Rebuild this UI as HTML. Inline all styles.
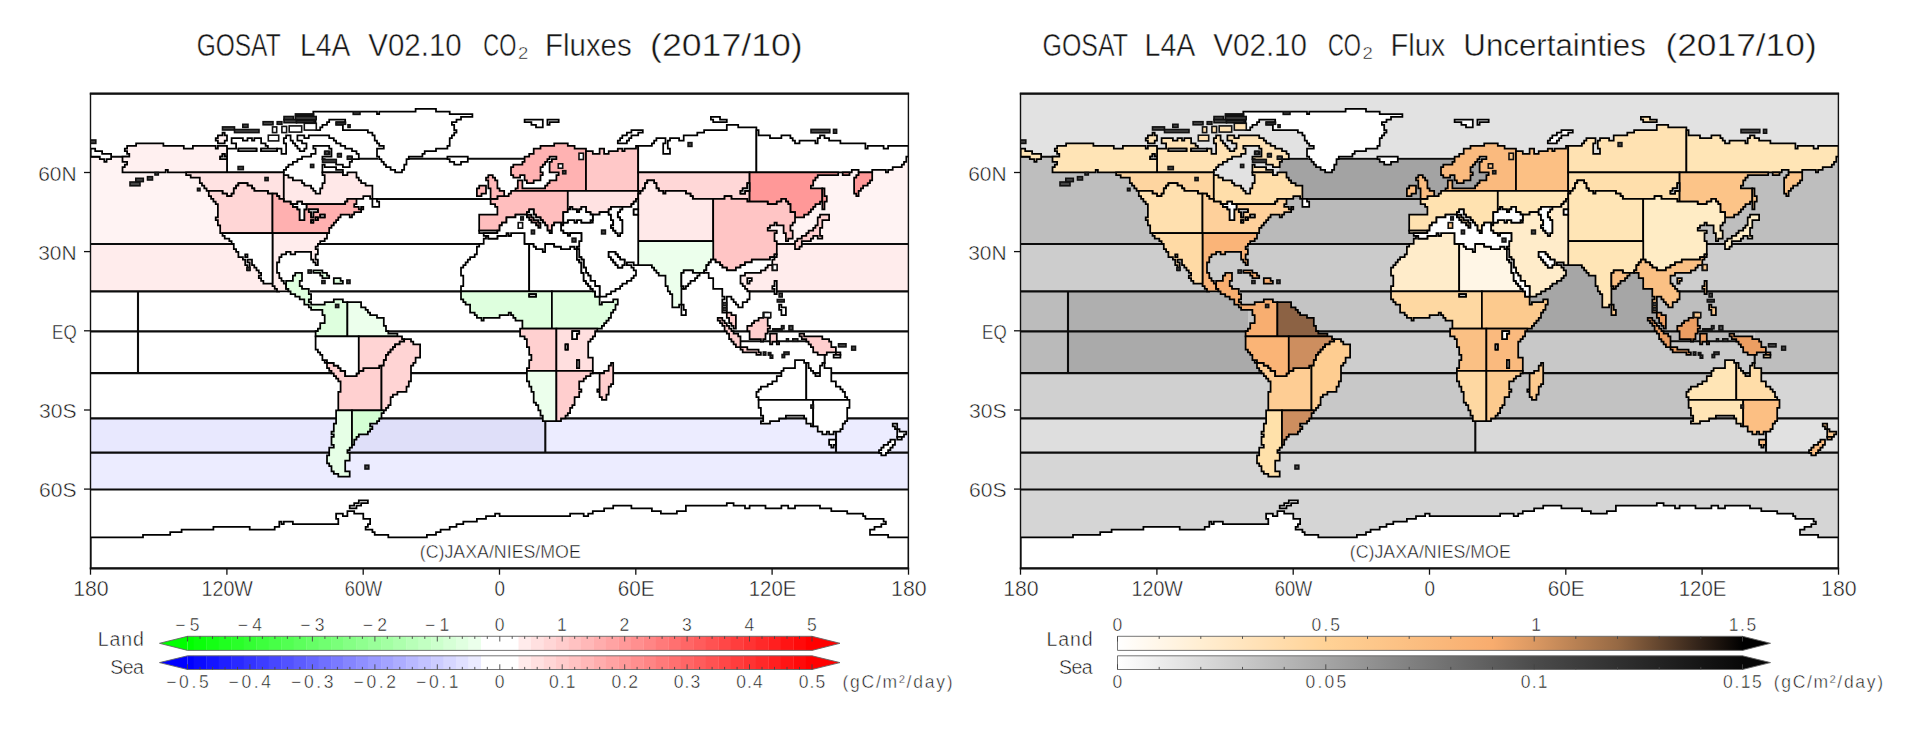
<!DOCTYPE html><html><head><meta charset="utf-8"><title>GOSAT L4A</title><style>html,body{margin:0;padding:0;background:#fff}body{width:1920px;height:750px;overflow:hidden}svg{display:block}text{font-family:"Liberation Sans",sans-serif;fill:#161616;stroke:#fff;stroke-width:0.45px}</style></head><body>
<svg width="1920" height="750" viewBox="0 0 1920 750">
<rect width="1920" height="750" fill="#fff"/>
<defs>
<path id="r0" d="M640.5 190.9H638.2V193.6H640.5ZM592.8 220H590.5V222.7H592.8ZM774.5 286.1H772.3V288.8H774.5V294.1H776.8V280.8H774.5ZM681.4 286.1V288.8H683.7V286.1ZM681.4 315.2H685.9V309.9H683.7V304.6H681.4ZM779.1 309.9H781.4V315.2H785.9V307.3H781.4V304.6H779.1ZM895 429H897.2V423.7H892.7V426.3H895ZM897.2 436.9H904V434.3H906.3V431.6H899.5V429H897.2Z" stroke="#000" stroke-width="1.75" stroke-linejoin="miter" fill-rule="evenodd"/>
<path id="r1" d="M236.1 148.6H227V172.4H283.8V169.8H286.1V167.1H288.4V164.5H292.9V161.8H297.4V159.2H302V156.5H311.1V153.9H315.6V148.6H313.3V145.9H329.2V148.6H331.5V156.5H322.4V159.2H324.7V161.8H336.1V164.5H342.9V167.1H349.7V161.8H352V159.2H358.8V153.9H356.5V151.2H352V148.6H345.2V145.9H340.6V143.3H336.1V140.7H333.8V138H329.2V135.4H308.8V138H304.3V135.4H297.4V140.7H302V143.3H306.5V148.6H304.3V151.2H299.7V148.6H297.4V145.9H295.2V143.3H292.9V140.7H290.6V135.4H286.1V138H283.8V143.3H286.1V153.9H281.5V148.6H277V151.2H261.1V148.6H267.9V145.9H265.6V143.3H261.1V138H254.3V140.7H252V138H247.5V140.7H242.9V138H231.6V143.3H236.1ZM238.4 151.2V148.6H256.5V151.2ZM322.4 172.4H342.9V169.8H336.1V167.1H324.7V164.5H322.4Z" stroke="#000" stroke-width="1.75" stroke-linejoin="miter" fill-rule="evenodd"/>
<path id="r2" d="M127.1 145.9V148.6H124.8V151.2H127.1V153.9H129.3V156.5H122.5V161.8H127.1V164.5H124.8V167.1H122.5V172.4H165.7V169.8H167.9V172.4H227V159.2H220.2V156.5H222.5V153.9H224.7V156.5H227V145.9H217.9V148.6H215.7V145.9H192.9V148.6H183.8V145.9H163.4V143.3H136.1V145.9ZM217.9 138H215.7V140.7H217.9V143.3H224.7V140.7H227V135.4H224.7V132.7H222.5V135.4H217.9Z" stroke="#000" stroke-width="1.75" stroke-linejoin="miter" fill-rule="evenodd"/>
<path id="r3" d="M186.1 175H190.7V177.7H199.8V183H202V185.6H204.3V188.3H206.6V190.9H222.5V193.6H227V196.2H231.6V193.6H233.8V188.3H236.1V185.6H238.4V183H247.5V185.6H252V188.3H254.3V190.9H267.9V193.6H277V196.2H279.3V198.8H283.8V172.4H186.1Z" stroke="#000" stroke-width="1.75" stroke-linejoin="miter" fill-rule="evenodd"/>
<path id="r4" d="M283.8 201.5H290.6V204.1H297.4V201.5H302V204.1H345.2V201.5H347.4V198.8H363.3V196.2H370.1V198.8H372.4V185.6H365.6V183H361.1V180.3H358.8V177.7H356.5V172.4H347.4V175H342.9V172.4H322.4V175H324.7V183H322.4V188.3H320.2V193.6H315.6V190.9H313.3V188.3H311.1V185.6H304.3V183H302V180.3H292.9V177.7H288.4V175H283.8Z" stroke="#000" stroke-width="1.75" stroke-linejoin="miter" fill-rule="evenodd"/>
<path id="r5" d="M236.1 185.6V188.3H233.8V193.6H231.6V196.2H227V193.6H222.5V190.9H208.8V196.2H211.1V198.8H213.4V201.5H215.7V204.1H217.9V217.4H215.7V220H217.9V225.3H220.2V233.2H272.5V193.6H267.9V190.9H254.3V188.3H252V185.6H247.5V183H238.4V185.6Z" stroke="#000" stroke-width="1.75" stroke-linejoin="miter" fill-rule="evenodd"/>
<path id="r6" d="M272.5 233.2H329.2V227.9H331.5V225.3H333.8V222.7H336.1V220H338.3V217.4H340.6V214.7H349.7V217.4H352V214.7H354.2V212.1H361.1V209.4H358.8V206.8H354.2V204.1H356.5V198.8H347.4V201.5H345.2V204.1H306.5V209.4H304.3V220H299.7V209.4H297.4V206.8H292.9V204.1H290.6V201.5H283.8V198.8H279.3V196.2H277V193.6H272.5ZM311.1 222.7V220H313.3V222.7ZM308.8 209.4H317.9V212.1H313.3V217.4H311.1V212.1H308.8ZM315.6 220V217.4H317.9V220ZM324.7 217.4H320.2V214.7H324.7ZM361.1 206.8V209.4H363.3V206.8Z" stroke="#000" stroke-width="1.75" stroke-linejoin="miter" fill-rule="evenodd"/>
<path id="r7" d="M272.5 286.1H274.7V288.8H277V291.4H288.4V288.8H286.1V283.5H283.8V280.8H281.5V278.2H279.3V272.9H277V262.3H279.3V257H281.5V254.4H286.1V251.8H290.6V254.4H295.2V251.8H311.1V259.7H313.3V262.3H315.6V265H317.9V259.7H315.6V254.4H317.9V249.1H315.6V246.5H317.9V243.8H320.2V241.2H324.7V238.5H327V233.2H272.5Z" stroke="#000" stroke-width="1.75" stroke-linejoin="miter" fill-rule="evenodd"/>
<path id="r8" d="M224.7 235.9V238.5H229.3V241.2H231.6V243.8H233.8V249.1H236.1V251.8H238.4V257H242.9V259.7H245.2V265H247.5V270.3H249.7V262.3H247.5V259.7H252V265H254.3V267.6H256.5V270.3H258.8V272.9H261.1V275.6H258.8V278.2H261.1V280.8H263.4V283.5H272.5V233.2H222.5V235.9ZM245.2 254.4H247.5V257H245.2Z" stroke="#000" stroke-width="1.75" stroke-linejoin="miter" fill-rule="evenodd"/>
<path id="r9" d="M320.2 272.9V275.6H322.4V278.2H329.2V275.6H327V272.9H322.4V270.3H313.3V272.9ZM295.2 275.6H292.9V280.8H286.1V288.8H288.4V291.4H290.6V294.1H295.2V296.7H299.7V299.4H304.3V304.6H308.8V307.3H311.1V309.9H322.4V315.2H324.7V323.2H320.2V328.5H317.9V331.1H315.6V336.4H347.4V302H342.9V299.4H333.8V302H324.7V304.6H311.1V302H308.8V299.4H311.1V294.1H308.8V288.8H302V286.1H299.7V280.8H302V272.9H295.2ZM342.9 280.8H340.6V278.2H333.8V283.5H342.9Z" stroke="#000" stroke-width="1.75" stroke-linejoin="miter" fill-rule="evenodd"/>
<path id="r10" d="M347.4 336.4H397.4V333.7H388.3V331.1H386V325.8H383.8V317.9H377V315.2H370.1V312.6H367.9V309.9H365.6V307.3H361.1V302H347.4Z" stroke="#000" stroke-width="1.75" stroke-linejoin="miter" fill-rule="evenodd"/>
<path id="r11" d="M327 362.8V360.2H324.7V362.8ZM327 368.1H329.2V370.8H331.5V373.4H333.8V376.1H336.1V378.7H338.3V381.4H340.6V391.9H338.3V410.4H381.5V365.5H379.2V368.1H363.3V370.8H358.8V373.4H356.5V376.1H345.2V370.8H340.6V368.1H338.3V365.5H333.8V362.8H327Z" stroke="#000" stroke-width="1.75" stroke-linejoin="miter" fill-rule="evenodd"/>
<path id="r12" d="M315.6 349.6H317.9V352.3H320.2V354.9H322.4V360.2H327V362.8H333.8V365.5H338.3V368.1H340.6V370.8H345.2V376.1H356.5V373.4H358.8V336.4H315.6Z" stroke="#000" stroke-width="1.75" stroke-linejoin="miter" fill-rule="evenodd"/>
<path id="r13" d="M358.8 370.8H363.3V368.1H379.2V365.5H383.8V360.2H386V354.9H388.3V352.3H390.6V349.6H392.9V347H395.1V344.3H399.7V341.7H404.2V339H402V336.4H358.8Z" stroke="#000" stroke-width="1.75" stroke-linejoin="miter" fill-rule="evenodd"/>
<path id="r14" d="M381.5 410.4H386V407.8H388.3V405.2H390.6V397.2H392.9V394.6H397.4V391.9H406.5V386.6H408.8V381.4H411V365.5H413.3V362.8H415.6V357.6H420.1V344.3H413.3V341.7H411V339H404.2V341.7H399.7V344.3H395.1V347H392.9V349.6H390.6V352.3H388.3V354.9H386V360.2H383.8V365.5H381.5Z" stroke="#000" stroke-width="1.75" stroke-linejoin="miter" fill-rule="evenodd"/>
<path id="r15" d="M352 410.4H336.1V423.7H333.8V431.6H331.5V434.3H333.8V436.9H331.5V444.8H333.8V447.5H329.2V455.4H327V463.4H329.2V466H331.5V471.3H333.8V473.9H338.3V476.6H349.7V471.3H345.2V460.7H349.7V452.8H347.4V450.1H349.7V447.5H352Z" stroke="#000" stroke-width="1.75" stroke-linejoin="miter" fill-rule="evenodd"/>
<path id="r16" d="M370.1 423.7H377V421H379.2V418.4H381.5V413.1H383.8V410.4H352V444.8H354.2V439.5H356.5V436.9H358.8V434.3H367.9V431.6H370.1V429H372.4V426.3H370.1Z" stroke="#000" stroke-width="1.75" stroke-linejoin="miter" fill-rule="evenodd"/>
<path id="r17" d="M567.8 145.9V143.3H554.2V145.9H540.5V148.6H533.7V153.9H529.2V156.5H524.6V161.8H522.4V164.5H513.3V167.1H511V175H513.3V177.7H520.1V175H524.6V180.3H526.9V183H533.7V180.3H540.5V175H542.8V172.4H540.5V167.1H542.8V164.5H545.1V161.8H547.4V159.2H549.6V156.5H556.4V159.2H551.9V161.8H549.6V172.4H558.7V175H556.4V180.3H549.6V183H547.4V185.6H545.1V188.3H522.4V180.3H517.8V188.3H515.5V190.9H586V148.6H574.6V145.9Z" stroke="#000" stroke-width="1.75" stroke-linejoin="miter" fill-rule="evenodd"/>
<path id="r18" d="M604.1 148.6H599.6V153.9H592.8V151.2H586V190.9H638.2V145.9H636V148.6H624.6V151.2H622.3V148.6H617.8V151.2H608.7V153.9H604.1Z" stroke="#000" stroke-width="1.75" stroke-linejoin="miter" fill-rule="evenodd"/>
<path id="r19" d="M490.6 198.8V204.1H495.1V206.8H497.4V214.7H479.2V230.6H499.6V225.3H501.9V222.7H506.5V217.4H515.5V214.7H526.9V212.1H529.2V209.4H533.7V214.7H536V217.4H540.5V220H542.8V222.7H545.1V225.3H547.4V230.6H551.9V225.3H554.2V222.7H561V225.3H563.3V212.1H567.8V190.9H511V193.6H508.7V196.2H497.4V198.8ZM531.4 220V222.7H536V225.3H538.3V227.9H540.5V222.7H538.3V220H533.7V217.4H531.4V214.7H526.9V217.4H529.2V220Z" stroke="#000" stroke-width="1.75" stroke-linejoin="miter" fill-rule="evenodd"/>
<path id="r20" d="M570.1 209.4V206.8H572.3V209.4H576.9V212.1H579.2V209.4H581.4V206.8H586V212.1H590.5V214.7H599.6V212.1H608.7V209.4H611V206.8H631.4V204.1H633.7V201.5H636V198.8H638.2V190.9H567.8V209.4Z" stroke="#000" stroke-width="1.75" stroke-linejoin="miter" fill-rule="evenodd"/>
<path id="r21" d="M654.1 140.7V143.3H651.9V145.9H638.2V172.4H756.4V127.4H738.2V124.8H726.8V130.1H704.1V132.7H697.3V135.4H683.7V140.7H679.1V138H670V140.7H667.8V148.6H670V153.9H663.2V143.3H665.5V138H656.4V140.7ZM713.2 122.1H726.8V119.5H720V116.9H710.9V119.5H713.2Z" stroke="#000" stroke-width="1.75" stroke-linejoin="miter" fill-rule="evenodd"/>
<path id="r22" d="M756.4 172.4H851.8V169.8H858.6V172.4H872.2V169.8H885.9V172.4H888.1V169.8H892.7V167.1H901.8V164.5H904V161.8H906.3V156.5H908.6V145.9H888.1V148.6H883.6V145.9H867.7V148.6H865.4V143.3H840.4V140.7H829.1V138H824.5V135.4H820V138H817.7V143.3H815.4V140.7H799.5V143.3H795V140.7H792.7V138H790.4V135.4H781.4V138H770V135.4H758.6V130.1H756.4Z" stroke="#000" stroke-width="1.75" stroke-linejoin="miter" fill-rule="evenodd"/>
<path id="r23" d="M90.7 148.6V156.5H99.8V159.2H104.3V161.8H106.6V159.2H111.1V153.9H102.1V151.2H95.2V148.6Z" stroke="#000" stroke-width="1.75" stroke-linejoin="miter" fill-rule="evenodd"/>
<path id="r24" d="M638.2 190.9H642.8V188.3H645V183H647.3V180.3H654.1V183H656.4V188.3H658.7V190.9H663.2V193.6H665.5V190.9H685.9V193.6H690.5V196.2H692.8V198.8H724.6V196.2H731.4V198.8H747.3V201.5H749.6V190.9H745V193.6H740.5V190.9H742.7V188.3H747.3V183H749.6V172.4H638.2Z" stroke="#000" stroke-width="1.75" stroke-linejoin="miter" fill-rule="evenodd"/>
<path id="r25" d="M749.6 201.5H767.7V204.1H776.8V201.5H781.4V198.8H785.9V201.5H788.2V204.1H790.4V212.1H795V217.4H804.1V214.7H808.6V212.1H810.9V209.4H813.2V206.8H815.4V204.1H820V201.5H822.3V188.3H810.9V185.6H813.2V180.3H815.4V177.7H817.7V175H838.2V172.4H749.6ZM842.7 172.4V175H849.5V172.4ZM858.6 175H856.3V177.7H854.1V193.6H856.3V196.2H858.6V190.9H860.9V188.3H863.1V185.6H867.7V183H870V180.3H872.2V172.4H858.6Z" stroke="#000" stroke-width="1.75" stroke-linejoin="miter" fill-rule="evenodd"/>
<path id="r26" d="M645 183V188.3H642.8V190.9H640.5V193.6H638.2V241.2H713.2V198.8H692.8V196.2H690.5V193.6H685.9V190.9H665.5V193.6H663.2V190.9H658.7V188.3H656.4V183H654.1V180.3H647.3V183Z" stroke="#000" stroke-width="1.75" stroke-linejoin="miter" fill-rule="evenodd"/>
<path id="r27" d="M713.2 259.7H715.5V262.3H720V265H722.3V267.6H726.8V270.3H735.9V267.6H740.5V265H745V262.3H751.8V259.7H770V257H774.5V254.4H776.8V241.2H774.5V233.2H776.8V230.6H767.7V227.9H770V225.3H774.5V222.7H776.8V225.3H783.6V233.2H785.9V241.2H788.2V238.5H792.7V230.6H790.4V225.3H792.7V222.7H795V212.1H790.4V204.1H788.2V201.5H785.9V198.8H781.4V201.5H776.8V204.1H767.7V201.5H747.3V198.8H731.4V196.2H724.6V198.8H713.2Z" stroke="#000" stroke-width="1.75" stroke-linejoin="miter" fill-rule="evenodd"/>
<path id="r28" d="M808.6 233.2H806.3V235.9H801.8V238.5H797.3V241.2H795V249.1H799.5V246.5H801.8V241.2H810.9V238.5H813.2V235.9H817.7V238.5H822.3V235.9H820V227.9H822.3V220H829.1V214.7H820V217.4H817.7V225.3H815.4V227.9H813.2V230.6H808.6Z" stroke="#000" stroke-width="1.75" stroke-linejoin="miter" fill-rule="evenodd"/>
<path id="r29" d="M713.2 241.2H638.2V265H651.9V267.6H654.1V270.3H656.4V272.9H658.7V275.6H665.5V286.1H667.8V291.4H670V294.1H672.3V307.3H679.1V304.6H681.4V272.9H683.7V270.3H692.8V272.9H704.1V270.3H706.4V265H708.7V262.3H710.9V259.7H713.2Z" stroke="#000" stroke-width="1.75" stroke-linejoin="miter" fill-rule="evenodd"/>
<path id="r30" d="M708.7 265H706.4V270.3H704.1V272.9H708.7V278.2H713.2V288.8H722.3V296.7H724.6V299.4H722.3V312.6H726.8V296.7H731.4V299.4H733.6V302H735.9V304.6H738.2V307.3H742.7V302H747.3V299.4H749.6V291.4H747.3V288.8H745V286.1H742.7V283.5H740.5V275.6H745V272.9H760.9V270.3H765.5V267.6H767.7V265H772.3V259.7H774.5V257H770V259.7H751.8V262.3H745V265H740.5V267.6H735.9V270.3H726.8V267.6H722.3V265H720V262.3H715.5V259.7H710.9V262.3H708.7ZM683.7 272.9H681.4V286.1H683.7V288.8H685.9V286.1H688.2V283.5H690.5V280.8H695V278.2H697.3V275.6H699.6V272.9H692.8V270.3H683.7ZM776.8 254.4H774.5V257H776.8ZM772.3 270.3H776.8V265H772.3ZM749.6 283.5V280.8H751.8V278.2H747.3V283.5Z" stroke="#000" stroke-width="1.75" stroke-linejoin="miter" fill-rule="evenodd"/>
<path id="r31" d="M729.1 317.9V323.2H731.4V325.8H733.6V328.5H735.9V315.2H731.4V312.6H726.8V317.9ZM747.3 325.8V331.1H749.6V339H760.9V341.7H763.2V339H765.5V333.7H767.7V328.5H770V325.8H767.7V317.9H770V315.2H767.7V312.6H763.2V317.9H758.6V320.5H754.1V323.2H751.8V325.8ZM742.7 352.3H756.4V354.9H760.9V352.3H758.6V349.6H747.3V347H740.5V349.6H742.7ZM806.3 339V341.7H808.6V344.3H810.9V347H813.2V352.3H817.7V354.9H826.8V352.3H835.9V347H831.3V341.7H829.1V339H822.3V336.4H804.1V333.7H799.5V336.4H801.8V339ZM770 344.3H772.3V341.7H776.8V333.7H770ZM776.8 341.7V344.3H779.1V341.7ZM835.9 354.9H840.4V352.3H835.9Z" stroke="#000" stroke-width="1.75" stroke-linejoin="miter" fill-rule="evenodd"/>
<path id="r32" d="M497.4 230.6H479.2V233.2H497.4ZM486 235.9V238.5H483.7V243.8H479.2V246.5H476.9V254.4H474.7V257H470.1V259.7H467.8V262.3H465.6V265H463.3V267.6H461V275.6H463.3V286.1H461V291.4H529.2V243.8H524.6V233.2H511V235.9H508.7V233.2H506.5V235.9H497.4V238.5H488.3V235.9Z" stroke="#000" stroke-width="1.75" stroke-linejoin="miter" fill-rule="evenodd"/>
<path id="r33" d="M551.9 230.6H549.6V233.2H551.9ZM529.2 291.4H592.8V288.8H590.5V286.1H588.2V283.5H586V280.8H583.7V272.9H581.4V262.3H579.2V259.7H576.9V249.1H574.6V246.5H570.1V249.1H561V246.5H554.2V243.8H545.1V251.8H542.8V249.1H536V246.5H533.7V243.8H529.2Z" stroke="#000" stroke-width="1.75" stroke-linejoin="miter" fill-rule="evenodd"/>
<path id="r34" d="M592.8 222.7H581.4V220H576.9V222.7H574.6V220H567.8V222.7H563.3V225.3H561V230.6H563.3V233.2H567.8V235.9H570.1V233.2H581.4V241.2H579.2V246.5H576.9V249.1H579.2V257H581.4V259.7H583.7V267.6H586V272.9H588.2V275.6H590.5V280.8H595.1V286.1H599.6V296.7H606.4V294.1H611V291.4H615.5V288.8H620.1V286.1H622.3V283.5H626.9V280.8H631.4V278.2H633.7V275.6H636V270.3H633.7V267.6H631.4V265H626.9V262.3H633.7V265H638.2V214.7H633.7V209.4H638.2V198.8H636V201.5H633.7V204.1H631.4V206.8H622.3V209.4H620.1V212.1H617.8V217.4H620.1V220H622.3V233.2H620.1V235.9H617.8V233.2H615.5V230.6H613.2V227.9H611V225.3H613.2V220H611V214.7H608.7V212.1H599.6V214.7H592.8ZM617.8 265H615.5V262.3H613.2V259.7H611V257H608.7V251.8H615.5V254.4H617.8V257H620.1V259.7H624.6V265H622.3V267.6H617.8Z" stroke="#000" stroke-width="1.75" stroke-linejoin="miter" fill-rule="evenodd"/>
<path id="r35" d="M461 299.4H463.3V302H465.6V304.6H470.1V312.6H474.7V315.2H476.9V317.9H481.5V320.5H483.7V317.9H499.6V315.2H508.7V312.6H511V315.2H513.3V317.9H515.5V320.5H522.4V328.5H551.9V291.4H461ZM529.2 296.7V294.1H536V296.7Z" stroke="#000" stroke-width="1.75" stroke-linejoin="miter" fill-rule="evenodd"/>
<path id="r36" d="M551.9 328.5H601.9V325.8H604.1V323.2H606.4V320.5H608.7V317.9H611V312.6H613.2V309.9H615.5V304.6H617.8V299.4H613.2V302H601.9V304.6H599.6V296.7H595.1V291.4H551.9Z" stroke="#000" stroke-width="1.75" stroke-linejoin="miter" fill-rule="evenodd"/>
<path id="r37" d="M520.1 336.4H524.6V339H526.9V347H529.2V354.9H531.4V360.2H529.2V368.1H526.9V370.8H556.4V328.5H520.1Z" stroke="#000" stroke-width="1.75" stroke-linejoin="miter" fill-rule="evenodd"/>
<path id="r38" d="M556.4 370.8H592.8V357.6H588.2V341.7H590.5V339H592.8V336.4H595.1V331.1H597.3V328.5H556.4ZM572.3 331.1H579.2V333.7H576.9V339H572.3ZM565.5 349.6V344.3H567.8V349.6ZM576.9 360.2H579.2V368.1H576.9Z" stroke="#000" stroke-width="1.75" stroke-linejoin="miter" fill-rule="evenodd"/>
<path id="r39" d="M526.9 381.4H529.2V386.6H531.4V391.9H533.7V402.5H536V405.2H538.3V410.4H540.5V415.7H542.8V421H556.4V370.8H526.9Z" stroke="#000" stroke-width="1.75" stroke-linejoin="miter" fill-rule="evenodd"/>
<path id="r40" d="M556.4 421H561V418.4H565.5V415.7H567.8V413.1H570.1V407.8H572.3V405.2H574.6V397.2H579.2V391.9H581.4V389.3H579.2V381.4H583.7V378.7H586V376.1H590.5V373.4H592.8V370.8H556.4ZM597.3 389.3V391.9H599.6V389.3Z" stroke="#000" stroke-width="1.75" stroke-linejoin="miter" fill-rule="evenodd"/>
<path id="r41" d="M613.2 362.8H611V365.5H608.7V370.8H604.1V373.4H599.6V397.2H601.9V399.9H606.4V394.6H608.7V386.6H611V384H613.2Z" stroke="#000" stroke-width="1.75" stroke-linejoin="miter" fill-rule="evenodd"/>
<path id="r42" d="M806.3 362.8H804.1V360.2H795V368.1H783.6V370.8H781.4V376.1H776.8V381.4H772.3V384H767.7V386.6H760.9V389.3H758.6V391.9H756.4V397.2H758.6V399.9H806.3Z" stroke="#000" stroke-width="1.75" stroke-linejoin="miter" fill-rule="evenodd"/>
<path id="r43" d="M806.3 399.9H847.2V397.2H845V391.9H842.7V389.3H840.4V386.6H835.9V381.4H831.3V368.1H824.5V362.8H822.3V365.5H820V376.1H815.4V373.4H813.2V370.8H810.9V368.1H808.6V362.8H806.3ZM840.4 354.9H833.6V357.6H840.4Z" stroke="#000" stroke-width="1.75" stroke-linejoin="miter" fill-rule="evenodd"/>
<path id="r44" d="M758.6 407.8H760.9V415.7H763.2V421H760.9V423.7H770V421H779.1V418.4H785.9V415.7H804.1V418.4H806.3V423.7H810.9V426.3H813.2V399.9H758.6Z" stroke="#000" stroke-width="1.75" stroke-linejoin="miter" fill-rule="evenodd"/>
<path id="r45" d="M813.2 426.3H817.7V431.6H822.3V434.3H826.8V431.6H829.1V434.3H833.6V431.6H840.4V429H842.7V423.7H845V421H847.2V407.8H849.5V399.9H813.2Z" stroke="#000" stroke-width="1.75" stroke-linejoin="miter" fill-rule="evenodd"/>
<path id="r46" d="M488.3 177.7H486V180.3H488.3V188.3H490.6V198.8H497.4V196.2H504.2V190.9H499.6V188.3H497.4V180.3H495.1V177.7H492.8V175H488.3Z" stroke="#000" stroke-width="1.75" stroke-linejoin="miter" fill-rule="evenodd"/>
<path id="r47" d="M479.2 185.6V188.3H476.9V196.2H481.5V193.6H486V185.6Z" stroke="#000" stroke-width="1.75" stroke-linejoin="miter" fill-rule="evenodd"/>
<path id="r48" d="M822.3 209.4H824.5V201.5H826.8V196.2H824.5V188.3H822.3Z" stroke="#000" stroke-width="1.75" stroke-linejoin="miter" fill-rule="evenodd"/>
<path id="r49" d="M717.7 320.5H720V323.2H722.3V325.8H724.6V331.1H726.8V333.7H729.1V339H731.4V341.7H733.6V344.3H735.9V347H740.5V336.4H738.2V333.7H733.6V331.1H731.4V328.5H729.1V325.8H726.8V323.2H724.6V320.5H722.3V317.9H717.7Z" stroke="#000" stroke-width="1.75" stroke-linejoin="miter" fill-rule="evenodd"/>
<path id="r50" d="M901.8 439.5V436.9H897.2V439.5ZM829.1 444.8H831.3V447.5H833.6V444.8H835.9V439.5H829.1ZM890.4 442.2H888.1V444.8H883.6V447.5H881.3V450.1H879V452.8H881.3V455.4H885.9V452.8H888.1V450.1H890.4V447.5H892.7V444.8H895V439.5H890.4Z" stroke="#000" stroke-width="1.75" stroke-linejoin="miter" fill-rule="evenodd"/>
<path id="lk" d="M227 159.2V156.5H224.7V153.9H222.5V156.5H220.2V159.2ZM292.9 206.8H297.4V209.4H299.7V220H304.3V209.4H306.5V204.1H302V201.5H297.4V204.1H292.9ZM526.9 212.1V214.7H515.5V217.4H506.5V222.7H501.9V225.3H499.6V230.6H497.4V233.2H483.7V235.9H488.3V238.5H497.4V235.9H506.5V233.2H508.7V235.9H511V233.2H524.6V243.8H533.7V246.5H536V249.1H542.8V251.8H545.1V243.8H554.2V246.5H561V249.1H570.1V246.5H574.6V249.1H576.9V246.5H579.2V241.2H581.4V233.2H570.1V235.9H567.8V233.2H563.3V230.6H561V222.7H554.2V225.3H551.9V233.2H549.6V230.6H547.4V225.3H545.1V222.7H542.8V220H540.5V217.4H536V214.7H533.7V209.4H529.2V212.1ZM531.4 214.7V217.4H533.7V220H538.3V222.7H540.5V227.9H538.3V225.3H536V222.7H531.4V220H529.2V217.4H526.9V214.7ZM311.1 217.4H313.3V212.1H317.9V209.4H308.8V212.1H311.1ZM320.2 217.4H324.7V214.7H320.2ZM317.9 220V217.4H315.6V220ZM311.1 222.7H313.3V220H311.1ZM576.9 209.4H572.3V206.8H570.1V209.4H567.8V212.1H563.3V222.7H567.8V220H574.6V222.7H576.9V220H581.4V222.7H590.5V220H592.8V214.7H590.5V212.1H586V206.8H581.4V209.4H579.2V212.1H576.9ZM536 296.7V294.1H529.2V296.7ZM572.3 339H576.9V333.7H579.2V331.1H572.3ZM567.8 344.3H565.5V349.6H567.8ZM579.2 259.7V262.3H581.4V272.9H583.7V280.8H586V283.5H588.2V286.1H590.5V288.8H592.8V291.4H595.1V296.7H599.6V286.1H595.1V280.8H590.5V275.6H588.2V272.9H586V267.6H583.7V259.7H581.4V257H579.2V249.1H576.9V259.7ZM579.2 360.2H576.9V368.1H579.2ZM740.5 190.9V193.6H745V190.9H749.6V183H747.3V188.3H742.7V190.9ZM608.7 209.4V214.7H611V220H613.2V225.3H611V227.9H613.2V230.6H615.5V233.2H617.8V235.9H620.1V233.2H622.3V220H620.1V217.4H617.8V212.1H620.1V209.4H622.3V206.8H611V209.4ZM638.2 214.7V209.4H633.7V214.7ZM613.2 259.7V262.3H615.5V265H617.8V267.6H622.3V265H624.6V259.7H620.1V257H617.8V254.4H615.5V251.8H608.7V257H611V259.7Z" stroke="#000" stroke-width="1.75" stroke-linejoin="miter" fill-rule="evenodd"/>
<path id="st" d="M238.4 148.6V151.2H256.5V148.6ZM261.1 148.6V151.2H277V148.6Z" stroke="#000" stroke-width="1.75" stroke-linejoin="miter" fill-rule="evenodd"/>
<path id="ic" d="M313.3 116.9H315.6V130.1H320.2V127.4H322.4V124.8H327V122.1H329.2V119.5H345.2V122.1H336.1V124.8H342.9V130.1H367.9V132.7H372.4V135.4H374.7V140.7H377V143.3H379.2V145.9H383.8V148.6H377V156.5H379.2V159.2H381.5V161.8H383.8V164.5H386V167.1H390.6V169.8H395.1V172.4H402V169.8H404.2V164.5H406.5V159.2H408.8V156.5H422.4V153.9H424.7V151.2H436V148.6H447.4V145.9H449.7V138H451.9V135.4H454.2V132.7H456.5V130.1H454.2V124.8H451.9V122.1H456.5V119.5H461V116.9H472.4V114.2H449.7V111.6H436V108.9H415.6V111.6H379.2V114.2H377V111.6H313.3ZM372.4 206.8H379.2V201.5H377V198.8H372.4ZM354.2 503V505.7H349.7V508.3H356.5V505.7H361.1V503H367.9V500.4H358.8V503ZM347.4 516.2H342.9V513.6H336.1V518.9H338.3V524.2H292.9V521.5H283.8V524.2H281.5V521.5H279.3V526.8H274.7V529.5H249.7V526.8H213.4V529.5H181.6V532.1H170.2V534.8H143V537.4H90.7V569.1H908.6V537.4H888.1V534.8H870V529.5H874.5V526.8H881.3V524.2H885.9V521.5H883.6V518.9H865.4V516.2H863.1V513.6H847.2V511H831.3V508.3H820V505.7H795V508.3H788.2V505.7H781.4V508.3H765.5V505.7H749.6V508.3H745V505.7H733.6V503H726.8V505.7H685.9V511H676.9V513.6H660.9V511H651.9V508.3H631.4V505.7H613.2V508.3H604.1V511H592.8V513.6H588.2V516.2H583.7V513.6H570.1V516.2H499.6V513.6H495.1V516.2H486V518.9H476.9V521.5H463.3V524.2H456.5V526.8H449.7V529.5H440.6V532.1H436V534.8H426.9V537.4H388.3V534.8H374.7V532.1H372.4V529.5H365.6V526.8H367.9V524.2H370.1V518.9H363.3V513.6H354.2V511H347.4ZM547.4 124.8H549.6V122.1H558.7V119.5H547.4ZM536 124.8V127.4H542.8V119.5H524.6V122.1H531.4V124.8ZM626.9 143.3V140.7H629.1V138H631.4V135.4H638.2V132.7H642.8V130.1H631.4V132.7H626.9V135.4H622.3V138H620.1V140.7H617.8V143.3ZM461 164.5V161.8H467.8V156.5H447.4V159.2H449.7V161.8H454.2V164.5Z" stroke="#000" stroke-width="1.75" stroke-linejoin="miter" fill-rule="evenodd"/>
<clipPath id="frameclip"><rect x="90.5" y="93.6" width="817.9" height="474.8"/></clipPath>
</defs>
<g transform="translate(0 0)">
<g clip-path="url(#frameclip)">
<path d="M80 156.8L260 156.8 260 244 80 244Z" fill="#fff3f3"/>
<path d="M765 156.8L925 156.8 925 244 765 244Z" fill="#fff3f3"/>
<path d="M80 244L235 244 292 291.4 80 291.4Z" fill="#ffecec"/>
<path d="M738 244L925 244 925 291.4 738 291.4Z" fill="#ffecec"/>
<path d="M80 418.4L350 418.4 350 452.6 80 452.6Z" fill="#e8e8fe"/>
<path d="M350 418.4L545.3 418.4 545.3 452.6 350 452.6Z" fill="#dfdff9"/>
<path d="M545.3 418.4L836 418.4 836 452.6 545.3 452.6Z" fill="#ececff"/>
<path d="M836 418.4L925 418.4 925 452.6 836 452.6Z" fill="#ececff"/>
<path d="M80 452.6L925 452.6 925 489.5 80 489.5Z" fill="#ececff"/>
<line x1="80" y1="156.8" x2="130" y2="156.8" stroke="#0c0c0c" stroke-width="2.1"/>
<line x1="349" y1="158.8" x2="378" y2="158.8" stroke="#0c0c0c" stroke-width="2.1"/>
<line x1="405" y1="158.8" x2="530" y2="158.8" stroke="#0c0c0c" stroke-width="2.1"/>
<line x1="373" y1="199" x2="490" y2="199" stroke="#0c0c0c" stroke-width="2.1"/>
<line x1="80" y1="244" x2="233" y2="244" stroke="#0c0c0c" stroke-width="2.1"/>
<line x1="318" y1="244" x2="485" y2="244" stroke="#0c0c0c" stroke-width="2.1"/>
<line x1="775" y1="244" x2="925" y2="244" stroke="#0c0c0c" stroke-width="2.1"/>
<line x1="80" y1="291.4" x2="280" y2="291.4" stroke="#0c0c0c" stroke-width="2.1"/>
<line x1="310" y1="291.4" x2="462" y2="291.4" stroke="#0c0c0c" stroke-width="2.1"/>
<line x1="748" y1="291.4" x2="925" y2="291.4" stroke="#0c0c0c" stroke-width="2.1"/>
<line x1="80" y1="331.4" x2="318" y2="331.4" stroke="#0c0c0c" stroke-width="2.1"/>
<line x1="387" y1="331.4" x2="522" y2="331.4" stroke="#0c0c0c" stroke-width="2.1"/>
<line x1="594" y1="331.4" x2="925" y2="331.4" stroke="#0c0c0c" stroke-width="2.1"/>
<line x1="80" y1="373.1" x2="332" y2="373.1" stroke="#0c0c0c" stroke-width="2.1"/>
<line x1="411" y1="373.1" x2="528" y2="373.1" stroke="#0c0c0c" stroke-width="2.1"/>
<line x1="592" y1="373.1" x2="925" y2="373.1" stroke="#0c0c0c" stroke-width="2.1"/>
<line x1="80" y1="418.4" x2="925" y2="418.4" stroke="#0c0c0c" stroke-width="2.1"/>
<line x1="80" y1="452.6" x2="925" y2="452.6" stroke="#0c0c0c" stroke-width="2.1"/>
<line x1="80" y1="489.5" x2="925" y2="489.5" stroke="#0c0c0c" stroke-width="2.1"/>
<line x1="741" y1="341.3" x2="809" y2="341.3" stroke="#0c0c0c" stroke-width="2.1"/>
<line x1="138" y1="291.4" x2="138" y2="373.1" stroke="#0c0c0c" stroke-width="2.1"/>
<line x1="545.3" y1="418.4" x2="545.3" y2="452.6" stroke="#0c0c0c" stroke-width="2.1"/>
<line x1="836" y1="418.4" x2="836" y2="452.6" stroke="#0c0c0c" stroke-width="2.1"/>
<line x1="824.7" y1="354" x2="824.7" y2="364" stroke="#0c0c0c" stroke-width="2.1"/>
<use href="#r0" fill="#ffffff"/>
<use href="#r1" fill="#ffffff"/>
<use href="#r2" fill="#fff0f0"/>
<use href="#r3" fill="#ffe2e2"/>
<use href="#r4" fill="#ffe8e8"/>
<use href="#r5" fill="#ffd6d6"/>
<use href="#r6" fill="#ffb0b0"/>
<use href="#r7" fill="#ffecec"/>
<use href="#r8" fill="#ffffff"/>
<use href="#r9" fill="#deffde"/>
<use href="#r10" fill="#ecffec"/>
<use href="#r11" fill="#ffd0d0"/>
<use href="#r12" fill="#ffffff"/>
<use href="#r13" fill="#ffd4d4"/>
<use href="#r14" fill="#ffd4d4"/>
<use href="#r15" fill="#e6ffe6"/>
<use href="#r16" fill="#d4ffd4"/>
<use href="#r17" fill="#ffb2b2"/>
<use href="#r18" fill="#ffc8c8"/>
<use href="#r19" fill="#ffbebe"/>
<use href="#r20" fill="#ffe2e2"/>
<use href="#r21" fill="#ffffff"/>
<use href="#r22" fill="#ffffff"/>
<use href="#r23" fill="#ffffff"/>
<use href="#r24" fill="#ffd7d7"/>
<use href="#r25" fill="#ff9898"/>
<use href="#r26" fill="#ffe9e9"/>
<use href="#r27" fill="#ffc5c5"/>
<use href="#r28" fill="#ffcece"/>
<use href="#r29" fill="#ecffec"/>
<use href="#r30" fill="#ffffff"/>
<use href="#r31" fill="#ffcece"/>
<use href="#r32" fill="#ffffff"/>
<use href="#r33" fill="#ffffff"/>
<use href="#r34" fill="#ffffff"/>
<use href="#r35" fill="#deffde"/>
<use href="#r36" fill="#deffde"/>
<use href="#r37" fill="#ffd0d0"/>
<use href="#r38" fill="#ffdfdf"/>
<use href="#r39" fill="#ecffec"/>
<use href="#r40" fill="#ffcece"/>
<use href="#r41" fill="#ffcece"/>
<use href="#r42" fill="#ffffff"/>
<use href="#r43" fill="#ffffff"/>
<use href="#r44" fill="#ffffff"/>
<use href="#r45" fill="#ffffff"/>
<use href="#r46" fill="#ffb8b8"/>
<use href="#r47" fill="#ffb8b8"/>
<use href="#r48" fill="#ff9898"/>
<use href="#r49" fill="#ffcece"/>
<use href="#r50" fill="#ffffff"/>
<use href="#lk" fill="#ffffff"/>
<use href="#st" fill="#ffffff"/>
<use href="#ic" fill="#ffffff"/>
<rect x="295.4" y="113.9" width="18.2" height="1.6" fill="#444" stroke="#111" stroke-width="1.6"/>
<rect x="284" y="116.5" width="9.4" height="3.1" fill="#444" stroke="#111" stroke-width="1.6"/>
<rect x="295.4" y="116.5" width="20.8" height="3.1" fill="#444" stroke="#111" stroke-width="1.6"/>
<rect x="284" y="119.6" width="12.5" height="3.1" fill="#444" stroke="#111" stroke-width="1.6"/>
<rect x="296.5" y="120.7" width="17.7" height="2.1" fill="#444" stroke="#111" stroke-width="1.6"/>
<rect x="263.1" y="121.7" width="9.9" height="3.1" fill="#444" stroke="#111" stroke-width="1.6"/>
<rect x="277.2" y="121.7" width="4.7" height="2.6" fill="#444" stroke="#111" stroke-width="1.6"/>
<rect x="304.3" y="123.3" width="12" height="6.8" fill="#fff" stroke="#111" stroke-width="1.6"/>
<rect x="289.2" y="125.9" width="12.5" height="6.2" fill="#fff" stroke="#111" stroke-width="1.6"/>
<rect x="281.9" y="126.4" width="4.7" height="6.2" fill="#fff" stroke="#111" stroke-width="1.6"/>
<rect x="272.5" y="126.9" width="4.2" height="5.7" fill="#fff" stroke="#111" stroke-width="1.6"/>
<rect x="222.5" y="126.9" width="12" height="3.1" fill="#444" stroke="#111" stroke-width="1.6"/>
<rect x="234.5" y="129.5" width="24.5" height="3.1" fill="#444" stroke="#111" stroke-width="1.6"/>
<rect x="242.8" y="124.3" width="5.2" height="3.1" fill="#444" stroke="#111" stroke-width="1.6"/>
<rect x="268.3" y="135.2" width="10.4" height="5.7" fill="#fff" stroke="#111" stroke-width="1.6"/>
<rect x="336.6" y="122.2" width="8.9" height="2.1" fill="#444" stroke="#111" stroke-width="1.6"/>
<rect x="348" y="124.8" width="2.1" height="2.6" fill="#444" stroke="#111" stroke-width="1.6"/>
<rect x="353.2" y="111.8" width="6.8" height="2.6" fill="#444" stroke="#111" stroke-width="1.6"/>
<rect x="324.6" y="151.4" width="5.2" height="3.1" fill="#444" stroke="#111" stroke-width="1.6"/>
<rect x="338.1" y="153.5" width="3.1" height="3.1" fill="#444" stroke="#111" stroke-width="1.6"/>
<rect x="347.5" y="156.6" width="4.7" height="2.6" fill="#444" stroke="#111" stroke-width="1.6"/>
<rect x="238.1" y="166.5" width="5.2" height="3.1" fill="#444" stroke="#111" stroke-width="1.6"/>
<rect x="322.5" y="159.4" width="13.8" height="3.1" fill="#444" stroke="#111" stroke-width="1.6"/>
<rect x="337.5" y="153.8" width="3.8" height="3.1" fill="#444" stroke="#111" stroke-width="1.6"/>
<rect x="347.5" y="156.2" width="4.4" height="3.1" fill="#444" stroke="#111" stroke-width="1.6"/>
<rect x="325" y="151.2" width="3.8" height="3.1" fill="#444" stroke="#111" stroke-width="1.6"/>
<rect x="310.6" y="164.4" width="3.1" height="3.1" fill="#444" stroke="#111" stroke-width="1.6"/>
<rect x="265" y="177.5" width="3.1" height="3.1" fill="#444" stroke="#111" stroke-width="1.6"/>
<rect x="308.1" y="270" width="3.1" height="3.1" fill="#444" stroke="#111" stroke-width="1.6"/>
<rect x="346.9" y="280" width="3.1" height="3.5" fill="#444" stroke="#111" stroke-width="1.6"/>
<rect x="321.9" y="280.6" width="3.1" height="2.9" fill="#444" stroke="#111" stroke-width="1.6"/>
<rect x="246.9" y="267.5" width="3.1" height="2.8" fill="#444" stroke="#111" stroke-width="1.6"/>
<rect x="335.6" y="304.4" width="3.1" height="3.1" fill="#444" stroke="#111" stroke-width="1.6"/>
<rect x="365" y="465.2" width="3.8" height="3.8" fill="#444" stroke="#111" stroke-width="1.6"/>
<rect x="130" y="182" width="10" height="3.8" fill="#444" stroke="#111" stroke-width="1.6"/>
<rect x="135.8" y="178.3" width="7.5" height="3.3" fill="#444" stroke="#111" stroke-width="1.6"/>
<rect x="147.5" y="176.7" width="5" height="3.3" fill="#444" stroke="#111" stroke-width="1.6"/>
<rect x="155" y="172.5" width="3.3" height="2.5" fill="#444" stroke="#111" stroke-width="1.6"/>
<rect x="197.5" y="188.3" width="2.5" height="2.5" fill="#444" stroke="#111" stroke-width="1.6"/>
<rect x="518.2" y="222.6" width="4.4" height="5.6" fill="#fff" stroke="#111" stroke-width="1.6"/>
<rect x="520.8" y="216.9" width="2.5" height="3.1" fill="#444" stroke="#111" stroke-width="1.6"/>
<rect x="531.4" y="230.1" width="3.1" height="3.8" fill="#444" stroke="#111" stroke-width="1.6"/>
<rect x="572.1" y="238.2" width="3.8" height="3.8" fill="#444" stroke="#111" stroke-width="1.6"/>
<rect x="601.6" y="230.1" width="3.8" height="3.8" fill="#444" stroke="#111" stroke-width="1.6"/>
<rect x="811" y="129.4" width="18.8" height="3.4" fill="#444" stroke="#111" stroke-width="1.6"/>
<rect x="833.5" y="129.4" width="3.1" height="3.8" fill="#444" stroke="#111" stroke-width="1.6"/>
<rect x="688.1" y="142.6" width="3.8" height="3.8" fill="#444" stroke="#111" stroke-width="1.6"/>
<rect x="89.8" y="140" width="6" height="3.4" fill="#444" stroke="#111" stroke-width="1.6"/>
<rect x="772.7" y="264.6" width="4.4" height="5.6" fill="#fff" stroke="#111" stroke-width="1.6"/>
<rect x="779.1" y="293.2" width="3.1" height="3.8" fill="#444" stroke="#111" stroke-width="1.6"/>
<rect x="777.3" y="299.5" width="6.9" height="2.5" fill="#444" stroke="#111" stroke-width="1.6"/>
<rect x="722.8" y="302.6" width="3.8" height="3.1" fill="#444" stroke="#111" stroke-width="1.6"/>
<rect x="722.8" y="307.6" width="3.8" height="3.1" fill="#444" stroke="#111" stroke-width="1.6"/>
<rect x="763.3" y="352" width="2.5" height="3.1" fill="#444" stroke="#111" stroke-width="1.6"/>
<rect x="768.3" y="352.6" width="2.5" height="2.5" fill="#444" stroke="#111" stroke-width="1.6"/>
<rect x="770.2" y="355.1" width="2.5" height="3.1" fill="#444" stroke="#111" stroke-width="1.6"/>
<rect x="782.1" y="354.5" width="2.5" height="3.1" fill="#444" stroke="#111" stroke-width="1.6"/>
<rect x="784" y="352" width="5" height="2.5" fill="#444" stroke="#111" stroke-width="1.6"/>
<rect x="772.7" y="328.8" width="9.4" height="1.3" fill="#444" stroke="#111" stroke-width="1.6"/>
<rect x="781.5" y="325.7" width="2.5" height="3.1" fill="#444" stroke="#111" stroke-width="1.6"/>
<rect x="789" y="325.7" width="3.8" height="4.4" fill="#444" stroke="#111" stroke-width="1.6"/>
<rect x="786.5" y="338.8" width="1.9" height="2.5" fill="#444" stroke="#111" stroke-width="1.6"/>
<rect x="792.8" y="338.8" width="5" height="2.5" fill="#444" stroke="#111" stroke-width="1.6"/>
<rect x="838.5" y="343.8" width="7.5" height="3.1" fill="#444" stroke="#111" stroke-width="1.6"/>
<rect x="851.7" y="346.3" width="3.8" height="3.8" fill="#444" stroke="#111" stroke-width="1.6"/>
<rect x="763.9" y="312.5" width="6.9" height="5" fill="#fff" stroke="#111" stroke-width="1.6"/>
<rect x="810.9" y="405" width="2.5" height="3.1" fill="#444" stroke="#111" stroke-width="1.6"/>
<rect x="579" y="153.2" width="4.4" height="6.3" fill="#fff" stroke="#111" stroke-width="1.6"/>
<rect x="558.3" y="163.8" width="4.4" height="4.4" fill="#fff" stroke="#111" stroke-width="1.6"/>
<rect x="562.7" y="170.7" width="3.1" height="3.1" fill="#444" stroke="#111" stroke-width="1.6"/>
</g>
<rect x="90.5" y="93.6" width="817.9" height="474.8" fill="none" stroke="#111" stroke-width="1.4"/>
<line x1="89.8" y1="93.6" x2="909.1" y2="93.6" stroke="#111" stroke-width="2.2"/>
<line x1="89.8" y1="568.4" x2="909.1" y2="568.4" stroke="#111" stroke-width="2.2"/>
<line x1="90.5" y1="568.4" x2="90.5" y2="574.7" stroke="#111" stroke-width="1.3"/>
<text x="73.2" y="595.6" font-size="21.5" textLength="35.5" lengthAdjust="spacingAndGlyphs">180</text>
<line x1="226.9" y1="568.4" x2="226.9" y2="574.7" stroke="#111" stroke-width="1.3"/>
<text x="201.6" y="595.6" font-size="21.5" textLength="51.3" lengthAdjust="spacingAndGlyphs">120W</text>
<line x1="363.2" y1="568.4" x2="363.2" y2="574.7" stroke="#111" stroke-width="1.3"/>
<text x="344.8" y="595.6" font-size="21.5" textLength="37.5" lengthAdjust="spacingAndGlyphs">60W</text>
<line x1="499.5" y1="568.4" x2="499.5" y2="574.7" stroke="#111" stroke-width="1.3"/>
<text x="494.6" y="595.6" font-size="21.5" textLength="10.5" lengthAdjust="spacingAndGlyphs">0</text>
<line x1="635.8" y1="568.4" x2="635.8" y2="574.7" stroke="#111" stroke-width="1.3"/>
<text x="617.8" y="595.6" font-size="21.5" textLength="36.8" lengthAdjust="spacingAndGlyphs">60E</text>
<line x1="772.1" y1="568.4" x2="772.1" y2="574.7" stroke="#111" stroke-width="1.3"/>
<text x="748.8" y="595.6" font-size="21.5" textLength="47.5" lengthAdjust="spacingAndGlyphs">120E</text>
<line x1="908.5" y1="568.4" x2="908.5" y2="574.7" stroke="#111" stroke-width="1.3"/>
<text x="891.1" y="595.6" font-size="21.5" textLength="35.5" lengthAdjust="spacingAndGlyphs">180</text>
<line x1="84" y1="172.5" x2="90.5" y2="172.5" stroke="#111" stroke-width="1.3"/>
<text x="38.2" y="180.7" font-size="20.5" textLength="38.4" lengthAdjust="spacingAndGlyphs">60N</text>
<line x1="84" y1="251.6" x2="90.5" y2="251.6" stroke="#111" stroke-width="1.3"/>
<text x="38.2" y="259.8" font-size="20.5" textLength="38.4" lengthAdjust="spacingAndGlyphs">30N</text>
<line x1="84" y1="330.8" x2="90.5" y2="330.8" stroke="#111" stroke-width="1.3"/>
<text x="52.1" y="339" font-size="20.5" textLength="24.5" lengthAdjust="spacingAndGlyphs">EQ</text>
<line x1="84" y1="410" x2="90.5" y2="410" stroke="#111" stroke-width="1.3"/>
<text x="39.1" y="418.2" font-size="20.5" textLength="37.5" lengthAdjust="spacingAndGlyphs">30S</text>
<line x1="84" y1="489.1" x2="90.5" y2="489.1" stroke="#111" stroke-width="1.3"/>
<text x="39.1" y="497.3" font-size="20.5" textLength="37.5" lengthAdjust="spacingAndGlyphs">60S</text>
<text x="419.8" y="558.4" font-size="18.9" textLength="161" lengthAdjust="spacingAndGlyphs">(C)JAXA/NIES/MOE</text>
</g>
<g transform="translate(930 0)">
<g clip-path="url(#frameclip)">
<path d="M80 80L925 80 925 156.8 80 156.8Z" fill="#e2e2e2"/>
<path d="M80 156.8L260 156.8 260 244 80 244Z" fill="#bebebe"/>
<path d="M765 156.8L925 156.8 925 244 765 244Z" fill="#bebebe"/>
<path d="M349 158.8L600 158.8 600 199 349 199Z" fill="#a3a3a3"/>
<path d="M283 150L349 150 349 197 283 197Z" fill="#e2e2e2"/>
<path d="M300 199L560 199 560 244 300 244Z" fill="#bababa"/>
<path d="M590 238L729 238 729 331.4 590 331.4Z" fill="#a6a6a6"/>
<path d="M80 244L235 244 292 291.4 80 291.4Z" fill="#cdcdcd"/>
<path d="M270 244L500 244 500 291.4 270 291.4Z" fill="#cbcbcb"/>
<path d="M738 244L925 244 925 291.4 738 291.4Z" fill="#cdcdcd"/>
<path d="M80 291.4L138 291.4 138 331.4 80 331.4Z" fill="#bcbcbc"/>
<path d="M138 291.4L291 291.4 311 304 318 310 318 331.4 138 331.4Z" fill="#afafaf"/>
<path d="M291 291.4L560 291.4 560 331.4 318 331.4 318 310 311 304Z" fill="#c4c4c4"/>
<path d="M728 291.4L925 291.4 925 331.4 728 331.4Z" fill="#bebebe"/>
<path d="M80 331.4L138 331.4 138 373.1 80 373.1Z" fill="#bababa"/>
<path d="M138 331.4L345 331.4 345 373.1 138 373.1Z" fill="#aaaaaa"/>
<path d="M345 331.4L560 331.4 560 373.1 345 373.1Z" fill="#cdcdcd"/>
<path d="M560 331.4L824.7 331.4 824.7 373.1 560 373.1Z" fill="#c8c8c8"/>
<path d="M824.7 331.4L925 331.4 925 373.1 824.7 373.1Z" fill="#bebebe"/>
<path d="M741 331.4L809 331.4 809 341.3 741 341.3Z" fill="#bababa"/>
<path d="M80 373.1L345 373.1 345 418.4 80 418.4Z" fill="#d0d0d0"/>
<path d="M345 373.1L545.3 373.1 545.3 418.4 345 418.4Z" fill="#c8c8c8"/>
<path d="M545.3 373.1L825 373.1 825 418.4 545.3 418.4Z" fill="#c2c2c2"/>
<path d="M825 373.1L925 373.1 925 418.4 825 418.4Z" fill="#d6d6d6"/>
<path d="M80 418.4L350 418.4 350 452.6 80 452.6Z" fill="#dedede"/>
<path d="M350 418.4L545.3 418.4 545.3 452.6 350 452.6Z" fill="#d0d0d0"/>
<path d="M545.3 418.4L836 418.4 836 452.6 545.3 452.6Z" fill="#d9d9d9"/>
<path d="M836 418.4L925 418.4 925 452.6 836 452.6Z" fill="#e1e1e1"/>
<path d="M80 452.6L925 452.6 925 489.5 80 489.5Z" fill="#d6d6d6"/>
<path d="M80 489.5L925 489.5 925 580 80 580Z" fill="#d5d5d5"/>
<line x1="80" y1="156.8" x2="130" y2="156.8" stroke="#0c0c0c" stroke-width="2.1"/>
<line x1="349" y1="158.8" x2="378" y2="158.8" stroke="#0c0c0c" stroke-width="2.1"/>
<line x1="405" y1="158.8" x2="530" y2="158.8" stroke="#0c0c0c" stroke-width="2.1"/>
<line x1="373" y1="199" x2="490" y2="199" stroke="#0c0c0c" stroke-width="2.1"/>
<line x1="80" y1="244" x2="233" y2="244" stroke="#0c0c0c" stroke-width="2.1"/>
<line x1="318" y1="244" x2="485" y2="244" stroke="#0c0c0c" stroke-width="2.1"/>
<line x1="775" y1="244" x2="925" y2="244" stroke="#0c0c0c" stroke-width="2.1"/>
<line x1="80" y1="291.4" x2="280" y2="291.4" stroke="#0c0c0c" stroke-width="2.1"/>
<line x1="310" y1="291.4" x2="462" y2="291.4" stroke="#0c0c0c" stroke-width="2.1"/>
<line x1="748" y1="291.4" x2="925" y2="291.4" stroke="#0c0c0c" stroke-width="2.1"/>
<line x1="80" y1="331.4" x2="318" y2="331.4" stroke="#0c0c0c" stroke-width="2.1"/>
<line x1="387" y1="331.4" x2="522" y2="331.4" stroke="#0c0c0c" stroke-width="2.1"/>
<line x1="594" y1="331.4" x2="925" y2="331.4" stroke="#0c0c0c" stroke-width="2.1"/>
<line x1="80" y1="373.1" x2="332" y2="373.1" stroke="#0c0c0c" stroke-width="2.1"/>
<line x1="411" y1="373.1" x2="528" y2="373.1" stroke="#0c0c0c" stroke-width="2.1"/>
<line x1="592" y1="373.1" x2="925" y2="373.1" stroke="#0c0c0c" stroke-width="2.1"/>
<line x1="80" y1="418.4" x2="925" y2="418.4" stroke="#0c0c0c" stroke-width="2.1"/>
<line x1="80" y1="452.6" x2="925" y2="452.6" stroke="#0c0c0c" stroke-width="2.1"/>
<line x1="80" y1="489.5" x2="925" y2="489.5" stroke="#0c0c0c" stroke-width="2.1"/>
<line x1="741" y1="341.3" x2="809" y2="341.3" stroke="#0c0c0c" stroke-width="2.1"/>
<line x1="138" y1="291.4" x2="138" y2="373.1" stroke="#0c0c0c" stroke-width="2.1"/>
<line x1="545.3" y1="418.4" x2="545.3" y2="452.6" stroke="#0c0c0c" stroke-width="2.1"/>
<line x1="836" y1="418.4" x2="836" y2="452.6" stroke="#0c0c0c" stroke-width="2.1"/>
<line x1="824.7" y1="354" x2="824.7" y2="364" stroke="#0c0c0c" stroke-width="2.1"/>
<use href="#r0" fill="#fcc88c"/>
<use href="#r1" fill="#ffe2b4"/>
<use href="#r2" fill="#ffe4b6"/>
<use href="#r3" fill="#fed5a0"/>
<use href="#r4" fill="#ffdeaa"/>
<use href="#r5" fill="#ffe0af"/>
<use href="#r6" fill="#fed09b"/>
<use href="#r7" fill="#fab478"/>
<use href="#r8" fill="#ffdaa5"/>
<use href="#r9" fill="#f8ae70"/>
<use href="#r10" fill="#8c6244"/>
<use href="#r11" fill="#fecd94"/>
<use href="#r12" fill="#fab476"/>
<use href="#r13" fill="#cd8e5f"/>
<use href="#r14" fill="#fecd91"/>
<use href="#r15" fill="#ffe1aa"/>
<use href="#r16" fill="#cd8e5f"/>
<use href="#r17" fill="#faba7e"/>
<use href="#r18" fill="#fcc084"/>
<use href="#r19" fill="#ffe2b0"/>
<use href="#r20" fill="#ffe5b6"/>
<use href="#r21" fill="#ffe2b2"/>
<use href="#r22" fill="#ffe5b6"/>
<use href="#r23" fill="#ffe5b6"/>
<use href="#r24" fill="#ffdfac"/>
<use href="#r25" fill="#fcc488"/>
<use href="#r26" fill="#ffe5b6"/>
<use href="#r27" fill="#ffecc5"/>
<use href="#r28" fill="#ffeec8"/>
<use href="#r29" fill="#ffe5b6"/>
<use href="#r30" fill="#fac084"/>
<use href="#r31" fill="#ec9e62"/>
<use href="#r32" fill="#ffecca"/>
<use href="#r33" fill="#fff6e6"/>
<use href="#r34" fill="#ffecca"/>
<use href="#r35" fill="#fed8a2"/>
<use href="#r36" fill="#fcca8e"/>
<use href="#r37" fill="#fac084"/>
<use href="#r38" fill="#faba7e"/>
<use href="#r39" fill="#fed8a2"/>
<use href="#r40" fill="#fcca8e"/>
<use href="#r41" fill="#fcca8e"/>
<use href="#r42" fill="#ffe5b6"/>
<use href="#r43" fill="#ffdda9"/>
<use href="#r44" fill="#ffe5b6"/>
<use href="#r45" fill="#fcbf83"/>
<use href="#r46" fill="#fbbe82"/>
<use href="#r47" fill="#fbbe82"/>
<use href="#r48" fill="#fcc488"/>
<use href="#r49" fill="#ec9e62"/>
<use href="#r50" fill="#fabc80"/>
<use href="#lk" fill="#ffffff"/>
<use href="#st" fill="#e2e2e2"/>
<use href="#ic" fill="#ffffff"/>
<rect x="295.4" y="113.9" width="18.2" height="1.6" fill="#444" stroke="#111" stroke-width="1.6"/>
<rect x="284" y="116.5" width="9.4" height="3.1" fill="#444" stroke="#111" stroke-width="1.6"/>
<rect x="295.4" y="116.5" width="20.8" height="3.1" fill="#444" stroke="#111" stroke-width="1.6"/>
<rect x="284" y="119.6" width="12.5" height="3.1" fill="#444" stroke="#111" stroke-width="1.6"/>
<rect x="296.5" y="120.7" width="17.7" height="2.1" fill="#444" stroke="#111" stroke-width="1.6"/>
<rect x="263.1" y="121.7" width="9.9" height="3.1" fill="#444" stroke="#111" stroke-width="1.6"/>
<rect x="277.2" y="121.7" width="4.7" height="2.6" fill="#444" stroke="#111" stroke-width="1.6"/>
<rect x="304.3" y="123.3" width="12" height="6.8" fill="#ffe2b4" stroke="#111" stroke-width="1.6"/>
<rect x="289.2" y="125.9" width="12.5" height="6.2" fill="#ffe2b4" stroke="#111" stroke-width="1.6"/>
<rect x="281.9" y="126.4" width="4.7" height="6.2" fill="#ffe2b4" stroke="#111" stroke-width="1.6"/>
<rect x="272.5" y="126.9" width="4.2" height="5.7" fill="#ffe2b4" stroke="#111" stroke-width="1.6"/>
<rect x="222.5" y="126.9" width="12" height="3.1" fill="#444" stroke="#111" stroke-width="1.6"/>
<rect x="234.5" y="129.5" width="24.5" height="3.1" fill="#444" stroke="#111" stroke-width="1.6"/>
<rect x="242.8" y="124.3" width="5.2" height="3.1" fill="#444" stroke="#111" stroke-width="1.6"/>
<rect x="268.3" y="135.2" width="10.4" height="5.7" fill="#ffe2b4" stroke="#111" stroke-width="1.6"/>
<rect x="336.6" y="122.2" width="8.9" height="2.1" fill="#444" stroke="#111" stroke-width="1.6"/>
<rect x="348" y="124.8" width="2.1" height="2.6" fill="#444" stroke="#111" stroke-width="1.6"/>
<rect x="353.2" y="111.8" width="6.8" height="2.6" fill="#444" stroke="#111" stroke-width="1.6"/>
<rect x="324.6" y="151.4" width="5.2" height="3.1" fill="#444" stroke="#111" stroke-width="1.6"/>
<rect x="338.1" y="153.5" width="3.1" height="3.1" fill="#444" stroke="#111" stroke-width="1.6"/>
<rect x="347.5" y="156.6" width="4.7" height="2.6" fill="#444" stroke="#111" stroke-width="1.6"/>
<rect x="238.1" y="166.5" width="5.2" height="3.1" fill="#444" stroke="#111" stroke-width="1.6"/>
<rect x="322.5" y="159.4" width="13.8" height="3.1" fill="#444" stroke="#111" stroke-width="1.6"/>
<rect x="337.5" y="153.8" width="3.8" height="3.1" fill="#444" stroke="#111" stroke-width="1.6"/>
<rect x="347.5" y="156.2" width="4.4" height="3.1" fill="#444" stroke="#111" stroke-width="1.6"/>
<rect x="325" y="151.2" width="3.8" height="3.1" fill="#444" stroke="#111" stroke-width="1.6"/>
<rect x="310.6" y="164.4" width="3.1" height="3.1" fill="#444" stroke="#111" stroke-width="1.6"/>
<rect x="265" y="177.5" width="3.1" height="3.1" fill="#444" stroke="#111" stroke-width="1.6"/>
<rect x="308.1" y="270" width="3.1" height="3.1" fill="#444" stroke="#111" stroke-width="1.6"/>
<rect x="346.9" y="280" width="3.1" height="3.5" fill="#444" stroke="#111" stroke-width="1.6"/>
<rect x="321.9" y="280.6" width="3.1" height="2.9" fill="#444" stroke="#111" stroke-width="1.6"/>
<rect x="246.9" y="267.5" width="3.1" height="2.8" fill="#444" stroke="#111" stroke-width="1.6"/>
<rect x="335.6" y="304.4" width="3.1" height="3.1" fill="#444" stroke="#111" stroke-width="1.6"/>
<rect x="365" y="465.2" width="3.8" height="3.8" fill="#444" stroke="#111" stroke-width="1.6"/>
<rect x="130" y="182" width="10" height="3.8" fill="#444" stroke="#111" stroke-width="1.6"/>
<rect x="135.8" y="178.3" width="7.5" height="3.3" fill="#444" stroke="#111" stroke-width="1.6"/>
<rect x="147.5" y="176.7" width="5" height="3.3" fill="#444" stroke="#111" stroke-width="1.6"/>
<rect x="155" y="172.5" width="3.3" height="2.5" fill="#444" stroke="#111" stroke-width="1.6"/>
<rect x="197.5" y="188.3" width="2.5" height="2.5" fill="#444" stroke="#111" stroke-width="1.6"/>
<rect x="518.2" y="222.6" width="4.4" height="5.6" fill="#fcc88c" stroke="#111" stroke-width="1.6"/>
<rect x="520.8" y="216.9" width="2.5" height="3.1" fill="#444" stroke="#111" stroke-width="1.6"/>
<rect x="531.4" y="230.1" width="3.1" height="3.8" fill="#444" stroke="#111" stroke-width="1.6"/>
<rect x="572.1" y="238.2" width="3.8" height="3.8" fill="#444" stroke="#111" stroke-width="1.6"/>
<rect x="601.6" y="230.1" width="3.8" height="3.8" fill="#444" stroke="#111" stroke-width="1.6"/>
<rect x="811" y="129.4" width="18.8" height="3.4" fill="#444" stroke="#111" stroke-width="1.6"/>
<rect x="833.5" y="129.4" width="3.1" height="3.8" fill="#444" stroke="#111" stroke-width="1.6"/>
<rect x="688.1" y="142.6" width="3.8" height="3.8" fill="#444" stroke="#111" stroke-width="1.6"/>
<rect x="89.8" y="140" width="6" height="3.4" fill="#444" stroke="#111" stroke-width="1.6"/>
<rect x="772.7" y="264.6" width="4.4" height="5.6" fill="#fcc88c" stroke="#111" stroke-width="1.6"/>
<rect x="779.1" y="293.2" width="3.1" height="3.8" fill="#444" stroke="#111" stroke-width="1.6"/>
<rect x="777.3" y="299.5" width="6.9" height="2.5" fill="#444" stroke="#111" stroke-width="1.6"/>
<rect x="722.8" y="302.6" width="3.8" height="3.1" fill="#444" stroke="#111" stroke-width="1.6"/>
<rect x="722.8" y="307.6" width="3.8" height="3.1" fill="#444" stroke="#111" stroke-width="1.6"/>
<rect x="763.3" y="352" width="2.5" height="3.1" fill="#444" stroke="#111" stroke-width="1.6"/>
<rect x="768.3" y="352.6" width="2.5" height="2.5" fill="#444" stroke="#111" stroke-width="1.6"/>
<rect x="770.2" y="355.1" width="2.5" height="3.1" fill="#444" stroke="#111" stroke-width="1.6"/>
<rect x="782.1" y="354.5" width="2.5" height="3.1" fill="#444" stroke="#111" stroke-width="1.6"/>
<rect x="784" y="352" width="5" height="2.5" fill="#444" stroke="#111" stroke-width="1.6"/>
<rect x="772.7" y="328.8" width="9.4" height="1.3" fill="#444" stroke="#111" stroke-width="1.6"/>
<rect x="781.5" y="325.7" width="2.5" height="3.1" fill="#444" stroke="#111" stroke-width="1.6"/>
<rect x="789" y="325.7" width="3.8" height="4.4" fill="#444" stroke="#111" stroke-width="1.6"/>
<rect x="786.5" y="338.8" width="1.9" height="2.5" fill="#444" stroke="#111" stroke-width="1.6"/>
<rect x="792.8" y="338.8" width="5" height="2.5" fill="#444" stroke="#111" stroke-width="1.6"/>
<rect x="838.5" y="343.8" width="7.5" height="3.1" fill="#444" stroke="#111" stroke-width="1.6"/>
<rect x="851.7" y="346.3" width="3.8" height="3.8" fill="#444" stroke="#111" stroke-width="1.6"/>
<rect x="763.9" y="312.5" width="6.9" height="5" fill="#fcc88c" stroke="#111" stroke-width="1.6"/>
<rect x="810.9" y="405" width="2.5" height="3.1" fill="#444" stroke="#111" stroke-width="1.6"/>
<rect x="579" y="153.2" width="4.4" height="6.3" fill="#fcc88c" stroke="#111" stroke-width="1.6"/>
<rect x="558.3" y="163.8" width="4.4" height="4.4" fill="#fcc88c" stroke="#111" stroke-width="1.6"/>
<rect x="562.7" y="170.7" width="3.1" height="3.1" fill="#444" stroke="#111" stroke-width="1.6"/>
</g>
<rect x="90.5" y="93.6" width="817.9" height="474.8" fill="none" stroke="#111" stroke-width="1.4"/>
<line x1="89.8" y1="93.6" x2="909.1" y2="93.6" stroke="#111" stroke-width="2.2"/>
<line x1="89.8" y1="568.4" x2="909.1" y2="568.4" stroke="#111" stroke-width="2.2"/>
<line x1="90.5" y1="568.4" x2="90.5" y2="574.7" stroke="#111" stroke-width="1.3"/>
<text x="73.2" y="595.6" font-size="21.5" textLength="35.5" lengthAdjust="spacingAndGlyphs">180</text>
<line x1="226.9" y1="568.4" x2="226.9" y2="574.7" stroke="#111" stroke-width="1.3"/>
<text x="201.6" y="595.6" font-size="21.5" textLength="51.3" lengthAdjust="spacingAndGlyphs">120W</text>
<line x1="363.2" y1="568.4" x2="363.2" y2="574.7" stroke="#111" stroke-width="1.3"/>
<text x="344.8" y="595.6" font-size="21.5" textLength="37.5" lengthAdjust="spacingAndGlyphs">60W</text>
<line x1="499.5" y1="568.4" x2="499.5" y2="574.7" stroke="#111" stroke-width="1.3"/>
<text x="494.6" y="595.6" font-size="21.5" textLength="10.5" lengthAdjust="spacingAndGlyphs">0</text>
<line x1="635.8" y1="568.4" x2="635.8" y2="574.7" stroke="#111" stroke-width="1.3"/>
<text x="617.8" y="595.6" font-size="21.5" textLength="36.8" lengthAdjust="spacingAndGlyphs">60E</text>
<line x1="772.1" y1="568.4" x2="772.1" y2="574.7" stroke="#111" stroke-width="1.3"/>
<text x="748.8" y="595.6" font-size="21.5" textLength="47.5" lengthAdjust="spacingAndGlyphs">120E</text>
<line x1="908.5" y1="568.4" x2="908.5" y2="574.7" stroke="#111" stroke-width="1.3"/>
<text x="891.1" y="595.6" font-size="21.5" textLength="35.5" lengthAdjust="spacingAndGlyphs">180</text>
<line x1="84" y1="172.5" x2="90.5" y2="172.5" stroke="#111" stroke-width="1.3"/>
<text x="38.2" y="180.7" font-size="20.5" textLength="38.4" lengthAdjust="spacingAndGlyphs">60N</text>
<line x1="84" y1="251.6" x2="90.5" y2="251.6" stroke="#111" stroke-width="1.3"/>
<text x="38.2" y="259.8" font-size="20.5" textLength="38.4" lengthAdjust="spacingAndGlyphs">30N</text>
<line x1="84" y1="330.8" x2="90.5" y2="330.8" stroke="#111" stroke-width="1.3"/>
<text x="52.1" y="339" font-size="20.5" textLength="24.5" lengthAdjust="spacingAndGlyphs">EQ</text>
<line x1="84" y1="410" x2="90.5" y2="410" stroke="#111" stroke-width="1.3"/>
<text x="39.1" y="418.2" font-size="20.5" textLength="37.5" lengthAdjust="spacingAndGlyphs">30S</text>
<line x1="84" y1="489.1" x2="90.5" y2="489.1" stroke="#111" stroke-width="1.3"/>
<text x="39.1" y="497.3" font-size="20.5" textLength="37.5" lengthAdjust="spacingAndGlyphs">60S</text>
<text x="419.8" y="558.4" font-size="18.9" textLength="161" lengthAdjust="spacingAndGlyphs">(C)JAXA/NIES/MOE</text>
</g>
<text x="196.7" y="55.8" font-size="32" textLength="83.9" lengthAdjust="spacingAndGlyphs" stroke-width="0.85">GOSAT</text>
<text x="300" y="55.8" font-size="32" textLength="50.3" lengthAdjust="spacingAndGlyphs" stroke-width="0.85">L4A</text>
<text x="368.3" y="55.8" font-size="32" textLength="93.4" lengthAdjust="spacingAndGlyphs" stroke-width="0.85">V02.10</text>
<text x="483.3" y="55.8" font-size="32" textLength="33" lengthAdjust="spacingAndGlyphs" stroke-width="0.85">CO</text>
<text x="545" y="55.8" font-size="32" textLength="86.7" lengthAdjust="spacingAndGlyphs" stroke-width="0.85">Fluxes</text>
<text x="650" y="55.8" font-size="32" textLength="152.7" lengthAdjust="spacingAndGlyphs" stroke-width="0.85">(2017/10)</text>
<text x="1042.5" y="55.8" font-size="32" textLength="85.4" lengthAdjust="spacingAndGlyphs" stroke-width="0.85">GOSAT</text>
<text x="1144.6" y="55.8" font-size="32" textLength="50.8" lengthAdjust="spacingAndGlyphs" stroke-width="0.85">L4A</text>
<text x="1213.3" y="55.8" font-size="32" textLength="93.7" lengthAdjust="spacingAndGlyphs" stroke-width="0.85">V02.10</text>
<text x="1327.9" y="55.8" font-size="32" textLength="33.1" lengthAdjust="spacingAndGlyphs" stroke-width="0.85">CO</text>
<text x="1390.4" y="55.8" font-size="32" textLength="55" lengthAdjust="spacingAndGlyphs" stroke-width="0.85">Flux</text>
<text x="1463.3" y="55.8" font-size="32" textLength="182.5" lengthAdjust="spacingAndGlyphs" stroke-width="0.85">Uncertainties</text>
<text x="1665.4" y="55.8" font-size="32" textLength="151.3" lengthAdjust="spacingAndGlyphs" stroke-width="0.85">(2017/10)</text>
<text x="518" y="59.4" font-size="16.5" textLength="10.3" lengthAdjust="spacingAndGlyphs" stroke-width="0.25">2</text>
<text x="1362.5" y="59.4" font-size="16.5" textLength="10.3" lengthAdjust="spacingAndGlyphs" stroke-width="0.25">2</text>
<polygon points="187.5,636.3 159.5,643.3 187.5,650.4" fill="#00ff00"/>
<polygon points="812,636.3 840,643.3 812,650.4" fill="#ff0000"/>
<rect x="187.5" y="636.3" width="6.5" height="14.1" fill="#00ff00"/>
<rect x="193.7" y="636.3" width="12.8" height="14.1" fill="#0aff0a"/>
<rect x="206.2" y="636.3" width="12.8" height="14.1" fill="#14ff14"/>
<rect x="218.7" y="636.3" width="12.8" height="14.1" fill="#1fff1f"/>
<rect x="231.2" y="636.3" width="12.8" height="14.1" fill="#29ff29"/>
<rect x="243.7" y="636.3" width="12.8" height="14.1" fill="#33ff33"/>
<rect x="256.2" y="636.3" width="12.8" height="14.1" fill="#3dff3d"/>
<rect x="268.7" y="636.3" width="12.8" height="14.1" fill="#47ff47"/>
<rect x="281.2" y="636.3" width="12.8" height="14.1" fill="#52ff52"/>
<rect x="293.7" y="636.3" width="12.8" height="14.1" fill="#5cff5c"/>
<rect x="306.2" y="636.3" width="12.8" height="14.1" fill="#66ff66"/>
<rect x="318.6" y="636.3" width="12.8" height="14.1" fill="#70ff70"/>
<rect x="331.1" y="636.3" width="12.8" height="14.1" fill="#7aff7a"/>
<rect x="343.6" y="636.3" width="12.8" height="14.1" fill="#85ff85"/>
<rect x="356.1" y="636.3" width="12.8" height="14.1" fill="#8fff8f"/>
<rect x="368.6" y="636.3" width="12.8" height="14.1" fill="#99ff99"/>
<rect x="381.1" y="636.3" width="12.8" height="14.1" fill="#a3ffa3"/>
<rect x="393.6" y="636.3" width="12.8" height="14.1" fill="#adffad"/>
<rect x="406.1" y="636.3" width="12.8" height="14.1" fill="#b8ffb8"/>
<rect x="418.6" y="636.3" width="12.8" height="14.1" fill="#c2ffc2"/>
<rect x="431.1" y="636.3" width="12.8" height="14.1" fill="#ccffcc"/>
<rect x="443.5" y="636.3" width="12.8" height="14.1" fill="#d6ffd6"/>
<rect x="456" y="636.3" width="12.8" height="14.1" fill="#e0ffe0"/>
<rect x="468.5" y="636.3" width="12.8" height="14.1" fill="#ebffeb"/>
<rect x="481" y="636.3" width="12.8" height="14.1" fill="#ffffff"/>
<rect x="493.5" y="636.3" width="12.8" height="14.1" fill="#ffffff"/>
<rect x="506" y="636.3" width="12.8" height="14.1" fill="#ffffff"/>
<rect x="518.5" y="636.3" width="12.8" height="14.1" fill="#ffebeb"/>
<rect x="531" y="636.3" width="12.8" height="14.1" fill="#ffe0e0"/>
<rect x="543.5" y="636.3" width="12.8" height="14.1" fill="#ffd6d6"/>
<rect x="556" y="636.3" width="12.8" height="14.1" fill="#ffcccc"/>
<rect x="568.4" y="636.3" width="12.8" height="14.1" fill="#ffc2c2"/>
<rect x="580.9" y="636.3" width="12.8" height="14.1" fill="#ffb8b8"/>
<rect x="593.4" y="636.3" width="12.8" height="14.1" fill="#ffadad"/>
<rect x="605.9" y="636.3" width="12.8" height="14.1" fill="#ffa3a3"/>
<rect x="618.4" y="636.3" width="12.8" height="14.1" fill="#ff9999"/>
<rect x="630.9" y="636.3" width="12.8" height="14.1" fill="#ff8f8f"/>
<rect x="643.4" y="636.3" width="12.8" height="14.1" fill="#ff8585"/>
<rect x="655.9" y="636.3" width="12.8" height="14.1" fill="#ff7a7a"/>
<rect x="668.4" y="636.3" width="12.8" height="14.1" fill="#ff7070"/>
<rect x="680.9" y="636.3" width="12.8" height="14.1" fill="#ff6666"/>
<rect x="693.3" y="636.3" width="12.8" height="14.1" fill="#ff5c5c"/>
<rect x="705.8" y="636.3" width="12.8" height="14.1" fill="#ff5252"/>
<rect x="718.3" y="636.3" width="12.8" height="14.1" fill="#ff4747"/>
<rect x="730.8" y="636.3" width="12.8" height="14.1" fill="#ff3d3d"/>
<rect x="743.3" y="636.3" width="12.8" height="14.1" fill="#ff3333"/>
<rect x="755.8" y="636.3" width="12.8" height="14.1" fill="#ff2929"/>
<rect x="768.3" y="636.3" width="12.8" height="14.1" fill="#ff1f1f"/>
<rect x="780.8" y="636.3" width="12.8" height="14.1" fill="#ff1414"/>
<rect x="793.3" y="636.3" width="12.8" height="14.1" fill="#ff0a0a"/>
<rect x="805.8" y="636.3" width="6.5" height="14.1" fill="#ff0000"/>
<polygon points="187.5,636.3 812,636.3 840,643.3 812,650.4 187.5,650.4 159.5,643.3" fill="none" stroke="#666" stroke-width="0.9"/>
<line x1="187.5" y1="636.3" x2="187.5" y2="641.5" stroke="#444" stroke-width="0.9"/>
<line x1="200" y1="636.3" x2="200" y2="638.9" stroke="#444" stroke-width="0.9"/>
<line x1="212.5" y1="636.3" x2="212.5" y2="638.9" stroke="#444" stroke-width="0.9"/>
<line x1="225" y1="636.3" x2="225" y2="638.9" stroke="#444" stroke-width="0.9"/>
<line x1="237.5" y1="636.3" x2="237.5" y2="638.9" stroke="#444" stroke-width="0.9"/>
<line x1="249.9" y1="636.3" x2="249.9" y2="641.5" stroke="#444" stroke-width="0.9"/>
<line x1="262.4" y1="636.3" x2="262.4" y2="638.9" stroke="#444" stroke-width="0.9"/>
<line x1="274.9" y1="636.3" x2="274.9" y2="638.9" stroke="#444" stroke-width="0.9"/>
<line x1="287.4" y1="636.3" x2="287.4" y2="638.9" stroke="#444" stroke-width="0.9"/>
<line x1="299.9" y1="636.3" x2="299.9" y2="638.9" stroke="#444" stroke-width="0.9"/>
<line x1="312.4" y1="636.3" x2="312.4" y2="641.5" stroke="#444" stroke-width="0.9"/>
<line x1="324.9" y1="636.3" x2="324.9" y2="638.9" stroke="#444" stroke-width="0.9"/>
<line x1="337.4" y1="636.3" x2="337.4" y2="638.9" stroke="#444" stroke-width="0.9"/>
<line x1="349.9" y1="636.3" x2="349.9" y2="638.9" stroke="#444" stroke-width="0.9"/>
<line x1="362.4" y1="636.3" x2="362.4" y2="638.9" stroke="#444" stroke-width="0.9"/>
<line x1="374.9" y1="636.3" x2="374.9" y2="641.5" stroke="#444" stroke-width="0.9"/>
<line x1="387.3" y1="636.3" x2="387.3" y2="638.9" stroke="#444" stroke-width="0.9"/>
<line x1="399.8" y1="636.3" x2="399.8" y2="638.9" stroke="#444" stroke-width="0.9"/>
<line x1="412.3" y1="636.3" x2="412.3" y2="638.9" stroke="#444" stroke-width="0.9"/>
<line x1="424.8" y1="636.3" x2="424.8" y2="638.9" stroke="#444" stroke-width="0.9"/>
<line x1="437.3" y1="636.3" x2="437.3" y2="641.5" stroke="#444" stroke-width="0.9"/>
<line x1="449.8" y1="636.3" x2="449.8" y2="638.9" stroke="#444" stroke-width="0.9"/>
<line x1="462.3" y1="636.3" x2="462.3" y2="638.9" stroke="#444" stroke-width="0.9"/>
<line x1="474.8" y1="636.3" x2="474.8" y2="638.9" stroke="#444" stroke-width="0.9"/>
<line x1="487.3" y1="636.3" x2="487.3" y2="638.9" stroke="#444" stroke-width="0.9"/>
<line x1="499.8" y1="636.3" x2="499.8" y2="641.5" stroke="#444" stroke-width="0.9"/>
<line x1="512.2" y1="636.3" x2="512.2" y2="638.9" stroke="#444" stroke-width="0.9"/>
<line x1="524.7" y1="636.3" x2="524.7" y2="638.9" stroke="#444" stroke-width="0.9"/>
<line x1="537.2" y1="636.3" x2="537.2" y2="638.9" stroke="#444" stroke-width="0.9"/>
<line x1="549.7" y1="636.3" x2="549.7" y2="638.9" stroke="#444" stroke-width="0.9"/>
<line x1="562.2" y1="636.3" x2="562.2" y2="641.5" stroke="#444" stroke-width="0.9"/>
<line x1="574.7" y1="636.3" x2="574.7" y2="638.9" stroke="#444" stroke-width="0.9"/>
<line x1="587.2" y1="636.3" x2="587.2" y2="638.9" stroke="#444" stroke-width="0.9"/>
<line x1="599.7" y1="636.3" x2="599.7" y2="638.9" stroke="#444" stroke-width="0.9"/>
<line x1="612.2" y1="636.3" x2="612.2" y2="638.9" stroke="#444" stroke-width="0.9"/>
<line x1="624.7" y1="636.3" x2="624.7" y2="641.5" stroke="#444" stroke-width="0.9"/>
<line x1="637.1" y1="636.3" x2="637.1" y2="638.9" stroke="#444" stroke-width="0.9"/>
<line x1="649.6" y1="636.3" x2="649.6" y2="638.9" stroke="#444" stroke-width="0.9"/>
<line x1="662.1" y1="636.3" x2="662.1" y2="638.9" stroke="#444" stroke-width="0.9"/>
<line x1="674.6" y1="636.3" x2="674.6" y2="638.9" stroke="#444" stroke-width="0.9"/>
<line x1="687.1" y1="636.3" x2="687.1" y2="641.5" stroke="#444" stroke-width="0.9"/>
<line x1="699.6" y1="636.3" x2="699.6" y2="638.9" stroke="#444" stroke-width="0.9"/>
<line x1="712.1" y1="636.3" x2="712.1" y2="638.9" stroke="#444" stroke-width="0.9"/>
<line x1="724.6" y1="636.3" x2="724.6" y2="638.9" stroke="#444" stroke-width="0.9"/>
<line x1="737.1" y1="636.3" x2="737.1" y2="638.9" stroke="#444" stroke-width="0.9"/>
<line x1="749.5" y1="636.3" x2="749.5" y2="641.5" stroke="#444" stroke-width="0.9"/>
<line x1="762" y1="636.3" x2="762" y2="638.9" stroke="#444" stroke-width="0.9"/>
<line x1="774.5" y1="636.3" x2="774.5" y2="638.9" stroke="#444" stroke-width="0.9"/>
<line x1="787" y1="636.3" x2="787" y2="638.9" stroke="#444" stroke-width="0.9"/>
<line x1="799.5" y1="636.3" x2="799.5" y2="638.9" stroke="#444" stroke-width="0.9"/>
<line x1="812" y1="636.3" x2="812" y2="641.5" stroke="#444" stroke-width="0.9"/>
<polygon points="187.5,655.8 159.5,662.6 187.5,669.5" fill="#0000ff"/>
<polygon points="812,655.8 840,662.6 812,669.5" fill="#ff0000"/>
<rect x="187.5" y="655.8" width="6.5" height="13.7" fill="#0000ff"/>
<rect x="193.7" y="655.8" width="12.8" height="13.7" fill="#0a0aff"/>
<rect x="206.2" y="655.8" width="12.8" height="13.7" fill="#1414ff"/>
<rect x="218.7" y="655.8" width="12.8" height="13.7" fill="#1f1fff"/>
<rect x="231.2" y="655.8" width="12.8" height="13.7" fill="#2929ff"/>
<rect x="243.7" y="655.8" width="12.8" height="13.7" fill="#3333ff"/>
<rect x="256.2" y="655.8" width="12.8" height="13.7" fill="#3d3dff"/>
<rect x="268.7" y="655.8" width="12.8" height="13.7" fill="#4747ff"/>
<rect x="281.2" y="655.8" width="12.8" height="13.7" fill="#5252ff"/>
<rect x="293.7" y="655.8" width="12.8" height="13.7" fill="#5c5cff"/>
<rect x="306.2" y="655.8" width="12.8" height="13.7" fill="#6666ff"/>
<rect x="318.6" y="655.8" width="12.8" height="13.7" fill="#7070ff"/>
<rect x="331.1" y="655.8" width="12.8" height="13.7" fill="#7a7aff"/>
<rect x="343.6" y="655.8" width="12.8" height="13.7" fill="#8585ff"/>
<rect x="356.1" y="655.8" width="12.8" height="13.7" fill="#8f8fff"/>
<rect x="368.6" y="655.8" width="12.8" height="13.7" fill="#9999ff"/>
<rect x="381.1" y="655.8" width="12.8" height="13.7" fill="#a3a3ff"/>
<rect x="393.6" y="655.8" width="12.8" height="13.7" fill="#adadff"/>
<rect x="406.1" y="655.8" width="12.8" height="13.7" fill="#b8b8ff"/>
<rect x="418.6" y="655.8" width="12.8" height="13.7" fill="#c2c2ff"/>
<rect x="431.1" y="655.8" width="12.8" height="13.7" fill="#ccccff"/>
<rect x="443.5" y="655.8" width="12.8" height="13.7" fill="#d6d6ff"/>
<rect x="456" y="655.8" width="12.8" height="13.7" fill="#e0e0ff"/>
<rect x="468.5" y="655.8" width="12.8" height="13.7" fill="#ebebff"/>
<rect x="481" y="655.8" width="12.8" height="13.7" fill="#ffffff"/>
<rect x="493.5" y="655.8" width="12.8" height="13.7" fill="#ffffff"/>
<rect x="506" y="655.8" width="12.8" height="13.7" fill="#ffffff"/>
<rect x="518.5" y="655.8" width="12.8" height="13.7" fill="#ffebeb"/>
<rect x="531" y="655.8" width="12.8" height="13.7" fill="#ffe0e0"/>
<rect x="543.5" y="655.8" width="12.8" height="13.7" fill="#ffd6d6"/>
<rect x="556" y="655.8" width="12.8" height="13.7" fill="#ffcccc"/>
<rect x="568.4" y="655.8" width="12.8" height="13.7" fill="#ffc2c2"/>
<rect x="580.9" y="655.8" width="12.8" height="13.7" fill="#ffb8b8"/>
<rect x="593.4" y="655.8" width="12.8" height="13.7" fill="#ffadad"/>
<rect x="605.9" y="655.8" width="12.8" height="13.7" fill="#ffa3a3"/>
<rect x="618.4" y="655.8" width="12.8" height="13.7" fill="#ff9999"/>
<rect x="630.9" y="655.8" width="12.8" height="13.7" fill="#ff8f8f"/>
<rect x="643.4" y="655.8" width="12.8" height="13.7" fill="#ff8585"/>
<rect x="655.9" y="655.8" width="12.8" height="13.7" fill="#ff7a7a"/>
<rect x="668.4" y="655.8" width="12.8" height="13.7" fill="#ff7070"/>
<rect x="680.9" y="655.8" width="12.8" height="13.7" fill="#ff6666"/>
<rect x="693.3" y="655.8" width="12.8" height="13.7" fill="#ff5c5c"/>
<rect x="705.8" y="655.8" width="12.8" height="13.7" fill="#ff5252"/>
<rect x="718.3" y="655.8" width="12.8" height="13.7" fill="#ff4747"/>
<rect x="730.8" y="655.8" width="12.8" height="13.7" fill="#ff3d3d"/>
<rect x="743.3" y="655.8" width="12.8" height="13.7" fill="#ff3333"/>
<rect x="755.8" y="655.8" width="12.8" height="13.7" fill="#ff2929"/>
<rect x="768.3" y="655.8" width="12.8" height="13.7" fill="#ff1f1f"/>
<rect x="780.8" y="655.8" width="12.8" height="13.7" fill="#ff1414"/>
<rect x="793.3" y="655.8" width="12.8" height="13.7" fill="#ff0a0a"/>
<rect x="805.8" y="655.8" width="6.5" height="13.7" fill="#ff0000"/>
<polygon points="187.5,655.8 812,655.8 840,662.6 812,669.5 187.5,669.5 159.5,662.6" fill="none" stroke="#666" stroke-width="0.9"/>
<line x1="187.5" y1="669.5" x2="187.5" y2="664.3" stroke="#444" stroke-width="0.9"/>
<line x1="200" y1="669.5" x2="200" y2="666.9" stroke="#444" stroke-width="0.9"/>
<line x1="212.5" y1="669.5" x2="212.5" y2="666.9" stroke="#444" stroke-width="0.9"/>
<line x1="225" y1="669.5" x2="225" y2="666.9" stroke="#444" stroke-width="0.9"/>
<line x1="237.5" y1="669.5" x2="237.5" y2="666.9" stroke="#444" stroke-width="0.9"/>
<line x1="249.9" y1="669.5" x2="249.9" y2="664.3" stroke="#444" stroke-width="0.9"/>
<line x1="262.4" y1="669.5" x2="262.4" y2="666.9" stroke="#444" stroke-width="0.9"/>
<line x1="274.9" y1="669.5" x2="274.9" y2="666.9" stroke="#444" stroke-width="0.9"/>
<line x1="287.4" y1="669.5" x2="287.4" y2="666.9" stroke="#444" stroke-width="0.9"/>
<line x1="299.9" y1="669.5" x2="299.9" y2="666.9" stroke="#444" stroke-width="0.9"/>
<line x1="312.4" y1="669.5" x2="312.4" y2="664.3" stroke="#444" stroke-width="0.9"/>
<line x1="324.9" y1="669.5" x2="324.9" y2="666.9" stroke="#444" stroke-width="0.9"/>
<line x1="337.4" y1="669.5" x2="337.4" y2="666.9" stroke="#444" stroke-width="0.9"/>
<line x1="349.9" y1="669.5" x2="349.9" y2="666.9" stroke="#444" stroke-width="0.9"/>
<line x1="362.4" y1="669.5" x2="362.4" y2="666.9" stroke="#444" stroke-width="0.9"/>
<line x1="374.9" y1="669.5" x2="374.9" y2="664.3" stroke="#444" stroke-width="0.9"/>
<line x1="387.3" y1="669.5" x2="387.3" y2="666.9" stroke="#444" stroke-width="0.9"/>
<line x1="399.8" y1="669.5" x2="399.8" y2="666.9" stroke="#444" stroke-width="0.9"/>
<line x1="412.3" y1="669.5" x2="412.3" y2="666.9" stroke="#444" stroke-width="0.9"/>
<line x1="424.8" y1="669.5" x2="424.8" y2="666.9" stroke="#444" stroke-width="0.9"/>
<line x1="437.3" y1="669.5" x2="437.3" y2="664.3" stroke="#444" stroke-width="0.9"/>
<line x1="449.8" y1="669.5" x2="449.8" y2="666.9" stroke="#444" stroke-width="0.9"/>
<line x1="462.3" y1="669.5" x2="462.3" y2="666.9" stroke="#444" stroke-width="0.9"/>
<line x1="474.8" y1="669.5" x2="474.8" y2="666.9" stroke="#444" stroke-width="0.9"/>
<line x1="487.3" y1="669.5" x2="487.3" y2="666.9" stroke="#444" stroke-width="0.9"/>
<line x1="499.8" y1="669.5" x2="499.8" y2="664.3" stroke="#444" stroke-width="0.9"/>
<line x1="512.2" y1="669.5" x2="512.2" y2="666.9" stroke="#444" stroke-width="0.9"/>
<line x1="524.7" y1="669.5" x2="524.7" y2="666.9" stroke="#444" stroke-width="0.9"/>
<line x1="537.2" y1="669.5" x2="537.2" y2="666.9" stroke="#444" stroke-width="0.9"/>
<line x1="549.7" y1="669.5" x2="549.7" y2="666.9" stroke="#444" stroke-width="0.9"/>
<line x1="562.2" y1="669.5" x2="562.2" y2="664.3" stroke="#444" stroke-width="0.9"/>
<line x1="574.7" y1="669.5" x2="574.7" y2="666.9" stroke="#444" stroke-width="0.9"/>
<line x1="587.2" y1="669.5" x2="587.2" y2="666.9" stroke="#444" stroke-width="0.9"/>
<line x1="599.7" y1="669.5" x2="599.7" y2="666.9" stroke="#444" stroke-width="0.9"/>
<line x1="612.2" y1="669.5" x2="612.2" y2="666.9" stroke="#444" stroke-width="0.9"/>
<line x1="624.7" y1="669.5" x2="624.7" y2="664.3" stroke="#444" stroke-width="0.9"/>
<line x1="637.1" y1="669.5" x2="637.1" y2="666.9" stroke="#444" stroke-width="0.9"/>
<line x1="649.6" y1="669.5" x2="649.6" y2="666.9" stroke="#444" stroke-width="0.9"/>
<line x1="662.1" y1="669.5" x2="662.1" y2="666.9" stroke="#444" stroke-width="0.9"/>
<line x1="674.6" y1="669.5" x2="674.6" y2="666.9" stroke="#444" stroke-width="0.9"/>
<line x1="687.1" y1="669.5" x2="687.1" y2="664.3" stroke="#444" stroke-width="0.9"/>
<line x1="699.6" y1="669.5" x2="699.6" y2="666.9" stroke="#444" stroke-width="0.9"/>
<line x1="712.1" y1="669.5" x2="712.1" y2="666.9" stroke="#444" stroke-width="0.9"/>
<line x1="724.6" y1="669.5" x2="724.6" y2="666.9" stroke="#444" stroke-width="0.9"/>
<line x1="737.1" y1="669.5" x2="737.1" y2="666.9" stroke="#444" stroke-width="0.9"/>
<line x1="749.5" y1="669.5" x2="749.5" y2="664.3" stroke="#444" stroke-width="0.9"/>
<line x1="762" y1="669.5" x2="762" y2="666.9" stroke="#444" stroke-width="0.9"/>
<line x1="774.5" y1="669.5" x2="774.5" y2="666.9" stroke="#444" stroke-width="0.9"/>
<line x1="787" y1="669.5" x2="787" y2="666.9" stroke="#444" stroke-width="0.9"/>
<line x1="799.5" y1="669.5" x2="799.5" y2="666.9" stroke="#444" stroke-width="0.9"/>
<line x1="812" y1="669.5" x2="812" y2="664.3" stroke="#444" stroke-width="0.9"/>
<text x="175.3" y="630.6" font-size="17.5" textLength="24.2" lengthAdjust="spacing">−5</text>
<text x="166.2" y="688" font-size="17.5" textLength="42.5" lengthAdjust="spacing">−0.5</text>
<text x="237.8" y="630.6" font-size="17.5" textLength="24.2" lengthAdjust="spacing">−4</text>
<text x="228.6" y="688" font-size="17.5" textLength="42.5" lengthAdjust="spacing">−0.4</text>
<text x="300.2" y="630.6" font-size="17.5" textLength="24.2" lengthAdjust="spacing">−3</text>
<text x="291.1" y="688" font-size="17.5" textLength="42.5" lengthAdjust="spacing">−0.3</text>
<text x="362.7" y="630.6" font-size="17.5" textLength="24.2" lengthAdjust="spacing">−2</text>
<text x="353.5" y="688" font-size="17.5" textLength="42.5" lengthAdjust="spacing">−0.2</text>
<text x="425.1" y="630.6" font-size="17.5" textLength="24.2" lengthAdjust="spacing">−1</text>
<text x="416" y="688" font-size="17.5" textLength="42.5" lengthAdjust="spacing">−0.1</text>
<text x="494.7" y="630.6" font-size="17.5" textLength="10" lengthAdjust="spacing">0</text>
<text x="494.7" y="688" font-size="17.5" textLength="10" lengthAdjust="spacing">0</text>
<text x="557.1" y="630.6" font-size="17.5" textLength="10" lengthAdjust="spacing">1</text>
<text x="548.9" y="688" font-size="17.5" textLength="26.5" lengthAdjust="spacing">0.1</text>
<text x="619.6" y="630.6" font-size="17.5" textLength="10" lengthAdjust="spacing">2</text>
<text x="611.4" y="688" font-size="17.5" textLength="26.5" lengthAdjust="spacing">0.2</text>
<text x="682" y="630.6" font-size="17.5" textLength="10" lengthAdjust="spacing">3</text>
<text x="673.8" y="688" font-size="17.5" textLength="26.5" lengthAdjust="spacing">0.3</text>
<text x="744.5" y="630.6" font-size="17.5" textLength="10" lengthAdjust="spacing">4</text>
<text x="736.2" y="688" font-size="17.5" textLength="26.5" lengthAdjust="spacing">0.4</text>
<text x="807" y="630.6" font-size="17.5" textLength="10" lengthAdjust="spacing">5</text>
<text x="798.7" y="688" font-size="17.5" textLength="26.5" lengthAdjust="spacing">0.5</text>
<text x="143.8" y="646.3" font-size="19.5" text-anchor="end" textLength="46" lengthAdjust="spacing">Land</text>
<text x="143.8" y="674.3" font-size="19.5" text-anchor="end" textLength="33.5" lengthAdjust="spacing">Sea</text>
<text x="842.5" y="688" font-size="17.5" textLength="110" lengthAdjust="spacing">(gC/m²/day)</text>
<linearGradient id="g636" x1="0" x2="1" y1="0" y2="0"><stop offset="0%" stop-color="#ffffff"/><stop offset="13.3%" stop-color="#ffeed2"/><stop offset="33.3%" stop-color="#ffd296"/><stop offset="60%" stop-color="#f8ac6e"/><stop offset="66.7%" stop-color="#da9862"/><stop offset="80%" stop-color="#966944"/><stop offset="93%" stop-color="#322319"/><stop offset="100%" stop-color="#000000"/></linearGradient>
<rect x="1117.5" y="636.3" width="625.5" height="14.1" fill="url(#g636)"/>
<polygon points="1742.5,636.3 1770.5,643.3 1742.5,650.4" fill="#000000"/>
<polygon points="1117.5,636.3 1742.5,636.3 1770.5,643.3 1742.5,650.4 1117.5,650.4" fill="none" stroke="#666" stroke-width="0.9"/>
<line x1="1117.5" y1="636.3" x2="1117.5" y2="641.5" stroke="#444" stroke-width="0.9"/>
<line x1="1159.2" y1="636.3" x2="1159.2" y2="638.9" stroke="#444" stroke-width="0.9"/>
<line x1="1200.8" y1="636.3" x2="1200.8" y2="638.9" stroke="#444" stroke-width="0.9"/>
<line x1="1242.5" y1="636.3" x2="1242.5" y2="638.9" stroke="#444" stroke-width="0.9"/>
<line x1="1284.2" y1="636.3" x2="1284.2" y2="638.9" stroke="#444" stroke-width="0.9"/>
<line x1="1325.8" y1="636.3" x2="1325.8" y2="641.5" stroke="#444" stroke-width="0.9"/>
<line x1="1367.5" y1="636.3" x2="1367.5" y2="638.9" stroke="#444" stroke-width="0.9"/>
<line x1="1409.2" y1="636.3" x2="1409.2" y2="638.9" stroke="#444" stroke-width="0.9"/>
<line x1="1450.8" y1="636.3" x2="1450.8" y2="638.9" stroke="#444" stroke-width="0.9"/>
<line x1="1492.5" y1="636.3" x2="1492.5" y2="638.9" stroke="#444" stroke-width="0.9"/>
<line x1="1534.2" y1="636.3" x2="1534.2" y2="641.5" stroke="#444" stroke-width="0.9"/>
<line x1="1575.8" y1="636.3" x2="1575.8" y2="638.9" stroke="#444" stroke-width="0.9"/>
<line x1="1617.5" y1="636.3" x2="1617.5" y2="638.9" stroke="#444" stroke-width="0.9"/>
<line x1="1659.2" y1="636.3" x2="1659.2" y2="638.9" stroke="#444" stroke-width="0.9"/>
<line x1="1700.8" y1="636.3" x2="1700.8" y2="638.9" stroke="#444" stroke-width="0.9"/>
<line x1="1742.5" y1="636.3" x2="1742.5" y2="641.5" stroke="#444" stroke-width="0.9"/>
<linearGradient id="g655" x1="0" x2="1" y1="0" y2="0"><stop offset="0%" stop-color="#ffffff"/><stop offset="33.3%" stop-color="#a5a5a5"/><stop offset="66.7%" stop-color="#4b4b4b"/><stop offset="100%" stop-color="#080808"/></linearGradient>
<rect x="1117.5" y="655.8" width="625.5" height="13.7" fill="url(#g655)"/>
<polygon points="1742.5,655.8 1770.5,662.6 1742.5,669.5" fill="#080808"/>
<polygon points="1117.5,655.8 1742.5,655.8 1770.5,662.6 1742.5,669.5 1117.5,669.5" fill="none" stroke="#666" stroke-width="0.9"/>
<line x1="1117.5" y1="669.5" x2="1117.5" y2="664.3" stroke="#444" stroke-width="0.9"/>
<line x1="1159.2" y1="669.5" x2="1159.2" y2="666.9" stroke="#444" stroke-width="0.9"/>
<line x1="1200.8" y1="669.5" x2="1200.8" y2="666.9" stroke="#444" stroke-width="0.9"/>
<line x1="1242.5" y1="669.5" x2="1242.5" y2="666.9" stroke="#444" stroke-width="0.9"/>
<line x1="1284.2" y1="669.5" x2="1284.2" y2="666.9" stroke="#444" stroke-width="0.9"/>
<line x1="1325.8" y1="669.5" x2="1325.8" y2="664.3" stroke="#444" stroke-width="0.9"/>
<line x1="1367.5" y1="669.5" x2="1367.5" y2="666.9" stroke="#444" stroke-width="0.9"/>
<line x1="1409.2" y1="669.5" x2="1409.2" y2="666.9" stroke="#444" stroke-width="0.9"/>
<line x1="1450.8" y1="669.5" x2="1450.8" y2="666.9" stroke="#444" stroke-width="0.9"/>
<line x1="1492.5" y1="669.5" x2="1492.5" y2="666.9" stroke="#444" stroke-width="0.9"/>
<line x1="1534.2" y1="669.5" x2="1534.2" y2="664.3" stroke="#444" stroke-width="0.9"/>
<line x1="1575.8" y1="669.5" x2="1575.8" y2="666.9" stroke="#444" stroke-width="0.9"/>
<line x1="1617.5" y1="669.5" x2="1617.5" y2="666.9" stroke="#444" stroke-width="0.9"/>
<line x1="1659.2" y1="669.5" x2="1659.2" y2="666.9" stroke="#444" stroke-width="0.9"/>
<line x1="1700.8" y1="669.5" x2="1700.8" y2="666.9" stroke="#444" stroke-width="0.9"/>
<line x1="1742.5" y1="669.5" x2="1742.5" y2="664.3" stroke="#444" stroke-width="0.9"/>
<text x="1112.5" y="630.6" font-size="17.5" textLength="10" lengthAdjust="spacing">0</text>
<text x="1112.5" y="688" font-size="17.5" textLength="10" lengthAdjust="spacing">0</text>
<text x="1311.6" y="630.6" font-size="17.5" textLength="28.5" lengthAdjust="spacing">0.5</text>
<text x="1305.5" y="688" font-size="17.5" textLength="40.7" lengthAdjust="spacing">0.05</text>
<text x="1531.2" y="630.6" font-size="17.5" textLength="6" lengthAdjust="spacing">1</text>
<text x="1520.8" y="688" font-size="17.5" textLength="26.7" lengthAdjust="spacing">0.1</text>
<text x="1728.7" y="630.6" font-size="17.5" textLength="27.5" lengthAdjust="spacing">1.5</text>
<text x="1723.1" y="688" font-size="17.5" textLength="38.7" lengthAdjust="spacing">0.15</text>
<text x="1092.5" y="646.3" font-size="19.5" text-anchor="end" textLength="46" lengthAdjust="spacing">Land</text>
<text x="1092.5" y="674.3" font-size="19.5" text-anchor="end" textLength="33.5" lengthAdjust="spacing">Sea</text>
<text x="1773.8" y="688" font-size="17.5" textLength="109.2" lengthAdjust="spacing">(gC/m²/day)</text>
</svg></body></html>
